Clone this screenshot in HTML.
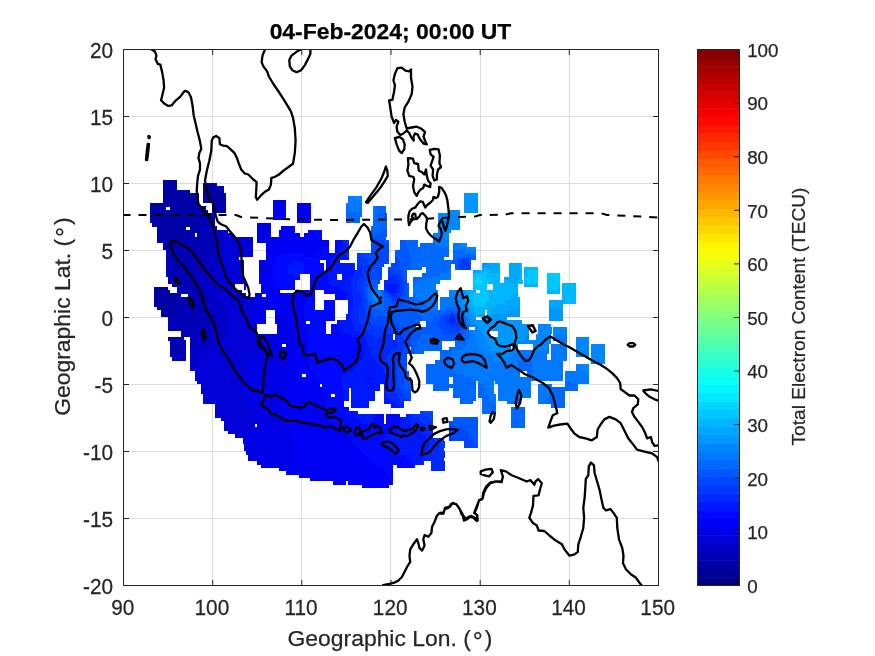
<!DOCTYPE html><html><head><meta charset="utf-8"><title>TEC map</title>
<style>html,body{margin:0;padding:0;background:#fff}svg{display:block}text{font-family:"Liberation Sans",sans-serif;fill:#262626;stroke:#262626;stroke-width:0.25px}</style></head><body>
<svg width="875" height="656" viewBox="0 0 875 656">
<rect width="875" height="656" fill="#fff"/>
<path d="M212.5 49.5V585.5M301.5 49.5V585.5M390.5 49.5V585.5M480.5 49.5V585.5M569.5 49.5V585.5M123.5 518.5H658.5M123.5 451.5H658.5M123.5 384.5H658.5M123.5 317.5H658.5M123.5 250.5H658.5M123.5 183.5H658.5M123.5 116.5H658.5" stroke="#dcdcdc" stroke-width="1" fill="none"/>
<g shape-rendering="crispEdges"><path fill="#000097" d="M152.1 223.1h2.5v3.6h-2.5zM154.3 203.0h9.2v3.6h-9.2zM163.3 199.6h2.5v3.6h-2.5zM163.3 196.3h2.5v3.6h-2.5zM163.3 192.9h2.5v3.6h-2.5z"/><path fill="#0000a7" d="M161.0 313.5h11.4v3.6h-11.4zM161.0 310.2h15.9v3.6h-15.9zM156.6 306.8h20.4v3.6h-20.4zM154.3 303.5h24.8v3.6h-24.8zM154.3 300.1h24.8v3.6h-24.8zM154.3 296.8h24.8v3.6h-24.8zM154.3 293.4h24.8v3.6h-24.8zM154.3 290.1h15.9v3.6h-15.9zM176.6 290.1h2.5v3.6h-2.5zM154.3 286.7h13.7v3.6h-13.7zM172.2 283.4h2.5v3.6h-2.5zM167.7 280.0h2.5v3.6h-2.5zM163.3 246.5h7.0v3.6h-7.0zM163.3 243.2h11.4v3.6h-11.4zM156.6 239.8h22.6v3.6h-22.6zM156.6 236.5h29.3v3.6h-29.3zM156.6 233.1h33.7v3.6h-33.7zM156.6 229.8h38.2v3.6h-38.2zM156.6 226.4h29.3v3.6h-29.3zM190.0 226.4h7.0v3.6h-7.0zM154.3 223.1h44.9v3.6h-44.9zM149.9 219.7h49.3v3.6h-49.3zM149.9 216.4h53.8v3.6h-53.8zM149.9 213.0h56.0v3.6h-56.0zM149.9 209.7h58.3v3.6h-58.3zM149.9 206.3h15.9v3.6h-15.9zM170.0 206.3h36.0v3.6h-36.0zM212.3 206.3h2.5v3.6h-2.5zM149.9 203.0h4.8v3.6h-4.8zM163.3 203.0h36.0v3.6h-36.0zM212.3 203.0h4.8v3.6h-4.8zM165.5 199.6h33.7v3.6h-33.7zM203.4 199.6h18.1v3.6h-18.1zM165.5 196.3h33.7v3.6h-33.7zM203.4 196.3h20.4v3.6h-20.4zM165.5 192.9h33.7v3.6h-33.7zM203.4 192.9h22.6v3.6h-22.6zM163.3 189.6h27.1v3.6h-27.1zM203.4 189.6h20.4v3.6h-20.4zM163.3 186.2h13.7v3.6h-13.7zM203.4 186.2h20.4v3.6h-20.4zM163.3 182.9h13.7v3.6h-13.7zM203.4 182.9h13.7v3.6h-13.7zM163.3 179.5h13.7v3.6h-13.7z"/><path fill="#0000b7" d="M172.2 357.1h9.2v3.6h-9.2zM170.0 353.8h13.7v3.6h-13.7zM170.0 350.4h15.9v3.6h-15.9zM170.0 347.0h15.9v3.6h-15.9zM170.0 343.7h15.9v3.6h-15.9zM170.0 340.3h15.9v3.6h-15.9zM167.7 337.0h15.9v3.6h-15.9zM190.0 337.0h2.5v3.6h-2.5zM181.1 333.6h11.4v3.6h-11.4zM181.1 330.3h11.4v3.6h-11.4zM167.7 326.9h27.1v3.6h-27.1zM167.7 323.6h47.1v3.6h-47.1zM167.7 320.2h49.3v3.6h-49.3zM167.7 316.9h49.3v3.6h-49.3zM172.2 313.5h42.7v3.6h-42.7zM176.6 310.2h36.0v3.6h-36.0zM176.6 306.8h31.5v3.6h-31.5zM178.9 303.5h29.3v3.6h-29.3zM178.9 300.1h29.3v3.6h-29.3zM178.9 296.8h29.3v3.6h-29.3zM178.9 293.4h2.5v3.6h-2.5zM187.8 293.4h18.1v3.6h-18.1zM178.9 290.1h27.1v3.6h-27.1zM176.6 286.7h27.1v3.6h-27.1zM174.4 283.4h27.1v3.6h-27.1zM170.0 280.0h29.3v3.6h-29.3zM167.7 276.7h29.3v3.6h-29.3zM165.5 273.3h31.5v3.6h-31.5zM165.5 270.0h33.7v3.6h-33.7zM165.5 266.6h36.0v3.6h-36.0zM165.5 263.3h40.4v3.6h-40.4zM165.5 259.9h42.7v3.6h-42.7zM165.5 256.6h47.1v3.6h-47.1zM165.5 253.2h47.1v3.6h-47.1zM165.5 249.9h49.3v3.6h-49.3zM170.0 246.5h44.9v3.6h-44.9zM174.4 243.2h40.4v3.6h-40.4zM178.9 239.8h36.0v3.6h-36.0zM185.6 236.5h27.1v3.6h-27.1zM190.0 233.1h4.8v3.6h-4.8zM196.7 233.1h15.9v3.6h-15.9zM194.5 229.8h18.1v3.6h-18.1zM196.7 226.4h15.9v3.6h-15.9zM198.9 223.1h15.9v3.6h-15.9zM198.9 219.7h15.9v3.6h-15.9zM203.4 216.4h11.4v3.6h-11.4zM205.6 213.0h9.2v3.6h-9.2zM212.3 209.7h13.7v3.6h-13.7zM214.5 206.3h11.4v3.6h-11.4zM216.8 203.0h9.2v3.6h-9.2zM221.2 199.6h4.8v3.6h-4.8zM223.5 196.3h2.5v3.6h-2.5z"/><path fill="#0000c7" d="M190.0 367.1h2.5v3.6h-2.5zM190.0 363.8h7.0v3.6h-7.0zM190.0 360.4h9.2v3.6h-9.2zM181.1 357.1h4.8v3.6h-4.8zM190.0 357.1h11.4v3.6h-11.4zM183.3 353.8h2.5v3.6h-2.5zM190.0 353.8h13.7v3.6h-13.7zM190.0 350.4h15.9v3.6h-15.9zM190.0 347.0h18.1v3.6h-18.1zM190.0 343.7h22.6v3.6h-22.6zM190.0 340.3h24.8v3.6h-24.8zM192.2 337.0h27.1v3.6h-27.1zM192.2 333.6h31.5v3.6h-31.5zM192.2 330.3h33.7v3.6h-33.7zM194.5 326.9h33.7v3.6h-33.7zM214.5 323.6h13.7v3.6h-13.7zM216.8 320.2h11.4v3.6h-11.4zM216.8 316.9h11.4v3.6h-11.4zM214.5 313.5h13.7v3.6h-13.7zM212.3 310.2h13.7v3.6h-13.7zM207.8 306.8h15.9v3.6h-15.9zM207.8 303.5h15.9v3.6h-15.9zM207.8 300.1h13.7v3.6h-13.7zM207.8 296.8h11.4v3.6h-11.4zM205.6 293.4h13.7v3.6h-13.7zM205.6 290.1h11.4v3.6h-11.4zM203.4 286.7h13.7v3.6h-13.7zM201.2 283.4h15.9v3.6h-15.9zM198.9 280.0h18.1v3.6h-18.1zM196.7 276.7h18.1v3.6h-18.1zM196.7 273.3h20.4v3.6h-20.4zM198.9 270.0h18.1v3.6h-18.1zM201.2 266.6h15.9v3.6h-15.9zM205.6 263.3h13.7v3.6h-13.7zM207.8 259.9h11.4v3.6h-11.4zM212.3 256.6h9.2v3.6h-9.2zM212.3 253.2h9.2v3.6h-9.2zM214.5 249.9h9.2v3.6h-9.2zM214.5 246.5h9.2v3.6h-9.2zM214.5 243.2h9.2v3.6h-9.2zM214.5 239.8h9.2v3.6h-9.2zM212.3 236.5h11.4v3.6h-11.4zM212.3 233.1h11.4v3.6h-11.4zM212.3 229.8h11.4v3.6h-11.4zM212.3 226.4h4.8v3.6h-4.8z"/><path fill="#0000d7" d="M234.6 434.1h9.2v3.6h-9.2zM227.9 430.8h20.4v3.6h-20.4zM223.5 427.4h29.3v3.6h-29.3zM223.5 424.1h31.5v3.6h-31.5zM223.5 420.8h31.5v3.6h-31.5zM221.2 417.4h33.7v3.6h-33.7zM214.5 414.0h40.4v3.6h-40.4zM214.5 410.7h40.4v3.6h-40.4zM214.5 407.3h38.2v3.6h-38.2zM214.5 404.0h36.0v3.6h-36.0zM203.4 400.6h44.9v3.6h-44.9zM203.4 397.3h42.7v3.6h-42.7zM203.4 393.9h42.7v3.6h-42.7zM201.2 390.6h42.7v3.6h-42.7zM201.2 387.2h42.7v3.6h-42.7zM201.2 383.9h42.7v3.6h-42.7zM196.7 380.5h47.1v3.6h-47.1zM194.5 377.2h49.3v3.6h-49.3zM194.5 373.8h49.3v3.6h-49.3zM194.5 370.5h51.6v3.6h-51.6zM192.2 367.1h56.0v3.6h-56.0zM196.7 363.8h53.8v3.6h-53.8zM198.9 360.4h53.8v3.6h-53.8zM201.2 357.1h53.8v3.6h-53.8zM203.4 353.8h53.8v3.6h-53.8zM205.6 350.4h53.8v3.6h-53.8zM207.8 347.0h53.8v3.6h-53.8zM212.3 343.7h49.3v3.6h-49.3zM214.5 340.3h47.1v3.6h-47.1zM219.0 337.0h42.7v3.6h-42.7zM223.5 333.6h38.2v3.6h-38.2zM225.7 330.3h31.5v3.6h-31.5zM227.9 326.9h29.3v3.6h-29.3zM227.9 323.6h24.8v3.6h-24.8zM227.9 320.2h22.6v3.6h-22.6zM227.9 316.9h22.6v3.6h-22.6zM227.9 313.5h22.6v3.6h-22.6zM225.7 310.2h24.8v3.6h-24.8zM223.5 306.8h29.3v3.6h-29.3zM223.5 303.5h29.3v3.6h-29.3zM221.2 300.1h31.5v3.6h-31.5zM219.0 296.8h33.7v3.6h-33.7zM219.0 293.4h27.1v3.6h-27.1zM216.8 290.1h24.8v3.6h-24.8zM216.8 286.7h18.1v3.6h-18.1zM243.5 286.7h2.5v3.6h-2.5zM216.8 283.4h18.1v3.6h-18.1zM243.5 283.4h2.5v3.6h-2.5zM216.8 280.0h29.3v3.6h-29.3zM214.5 276.7h29.3v3.6h-29.3zM216.8 273.3h27.1v3.6h-27.1zM216.8 270.0h27.1v3.6h-27.1zM216.8 266.6h27.1v3.6h-27.1zM219.0 263.3h24.8v3.6h-24.8zM219.0 259.9h24.8v3.6h-24.8zM221.2 256.6h18.1v3.6h-18.1zM221.2 253.2h31.5v3.6h-31.5zM223.5 249.9h29.3v3.6h-29.3zM223.5 246.5h29.3v3.6h-29.3zM223.5 243.2h29.3v3.6h-29.3zM223.5 239.8h27.1v3.6h-27.1zM223.5 236.5h22.6v3.6h-22.6zM223.5 233.1h9.2v3.6h-9.2zM223.5 229.8h4.8v3.6h-4.8z"/><path fill="#0000e7" d="M279.2 467.6h9.2v3.6h-9.2zM261.3 464.3h29.3v3.6h-29.3zM256.9 460.9h36.0v3.6h-36.0zM248.0 457.6h44.9v3.6h-44.9zM248.0 454.2h44.9v3.6h-44.9zM245.7 450.9h49.3v3.6h-49.3zM243.5 447.5h51.6v3.6h-51.6zM243.5 444.2h51.6v3.6h-51.6zM243.5 440.8h49.3v3.6h-49.3zM243.5 437.5h49.3v3.6h-49.3zM243.5 434.1h47.1v3.6h-47.1zM248.0 430.8h42.7v3.6h-42.7zM252.4 427.4h36.0v3.6h-36.0zM256.9 424.1h29.3v3.6h-29.3zM254.7 420.8h31.5v3.6h-31.5zM254.7 417.4h29.3v3.6h-29.3zM254.7 414.0h29.3v3.6h-29.3zM254.7 410.7h29.3v3.6h-29.3zM252.4 407.3h31.5v3.6h-31.5zM250.2 404.0h33.7v3.6h-33.7zM248.0 400.6h36.0v3.6h-36.0zM245.7 397.3h38.2v3.6h-38.2zM245.7 393.9h40.4v3.6h-40.4zM243.5 390.6h42.7v3.6h-42.7zM243.5 387.2h42.7v3.6h-42.7zM243.5 383.9h44.9v3.6h-44.9zM243.5 380.5h44.9v3.6h-44.9zM243.5 377.2h44.9v3.6h-44.9zM243.5 373.8h44.9v3.6h-44.9zM245.7 370.5h42.7v3.6h-42.7zM248.0 367.1h38.2v3.6h-38.2zM250.2 363.8h36.0v3.6h-36.0zM252.4 360.4h33.7v3.6h-33.7zM254.7 357.1h31.5v3.6h-31.5zM256.9 353.8h29.3v3.6h-29.3zM259.1 350.4h29.3v3.6h-29.3zM261.3 347.0h29.3v3.6h-29.3zM261.3 343.7h20.4v3.6h-20.4zM285.9 343.7h4.8v3.6h-4.8zM261.3 340.3h31.5v3.6h-31.5zM261.3 337.0h33.7v3.6h-33.7zM261.3 333.6h33.7v3.6h-33.7zM277.0 330.3h18.1v3.6h-18.1zM277.0 326.9h18.1v3.6h-18.1zM252.4 323.6h4.8v3.6h-4.8zM277.0 323.6h15.9v3.6h-15.9zM250.2 320.2h15.9v3.6h-15.9zM274.7 320.2h15.9v3.6h-15.9zM250.2 316.9h15.9v3.6h-15.9zM274.7 316.9h13.7v3.6h-13.7zM250.2 313.5h15.9v3.6h-15.9zM274.7 313.5h9.2v3.6h-9.2zM250.2 310.2h15.9v3.6h-15.9zM252.4 306.8h18.1v3.6h-18.1zM252.4 303.5h15.9v3.6h-15.9zM252.4 300.1h13.7v3.6h-13.7zM252.4 296.8h13.7v3.6h-13.7zM254.7 293.4h7.0v3.6h-7.0zM261.3 290.1h2.5v3.6h-2.5zM261.3 286.7h2.5v3.6h-2.5zM259.1 280.0h2.5v3.6h-2.5zM259.1 266.6h2.5v3.6h-2.5zM259.1 263.3h2.5v3.6h-2.5zM259.1 259.9h2.5v3.6h-2.5zM265.8 243.2h2.5v3.6h-2.5zM250.2 239.8h2.5v3.6h-2.5zM256.9 239.8h15.9v3.6h-15.9zM245.7 236.5h7.0v3.6h-7.0zM256.9 236.5h18.1v3.6h-18.1zM256.9 233.1h13.7v3.6h-13.7zM256.9 229.8h13.7v3.6h-13.7zM256.9 226.4h13.7v3.6h-13.7zM256.9 223.1h13.7v3.6h-13.7zM272.5 216.4h4.8v3.6h-4.8z"/><path fill="#0000f7" d="M361.7 484.4h27.1v3.6h-27.1zM332.7 481.0h13.7v3.6h-13.7zM348.3 481.0h42.7v3.6h-42.7zM310.4 477.7h80.5v3.6h-80.5zM299.2 474.3h89.5v3.6h-89.5zM285.9 471.0h100.6v3.6h-100.6zM288.1 467.6h96.2v3.6h-96.2zM290.3 464.3h87.2v3.6h-87.2zM292.6 460.9h78.3v3.6h-78.3zM292.6 457.6h76.1v3.6h-76.1zM292.6 454.2h73.9v3.6h-73.9zM294.8 450.9h67.2v3.6h-67.2zM294.8 447.5h64.9v3.6h-64.9zM294.8 444.2h60.5v3.6h-60.5zM292.6 440.8h60.5v3.6h-60.5zM292.6 437.5h58.3v3.6h-58.3zM290.3 434.1h58.3v3.6h-58.3zM290.3 430.8h53.8v3.6h-53.8zM288.1 427.4h51.6v3.6h-51.6zM285.9 424.1h49.3v3.6h-49.3zM285.9 420.8h44.9v3.6h-44.9zM283.6 417.4h44.9v3.6h-44.9zM283.6 414.0h44.9v3.6h-44.9zM283.6 410.7h42.7v3.6h-42.7zM283.6 407.3h42.7v3.6h-42.7zM283.6 404.0h42.7v3.6h-42.7zM283.6 400.6h42.7v3.6h-42.7zM283.6 397.3h42.7v3.6h-42.7zM285.9 393.9h40.4v3.6h-40.4zM285.9 390.6h38.2v3.6h-38.2zM285.9 387.2h38.2v3.6h-38.2zM288.1 383.9h31.5v3.6h-31.5zM288.1 380.5h31.5v3.6h-31.5zM288.1 377.2h29.3v3.6h-29.3zM288.1 373.8h13.7v3.6h-13.7zM305.9 373.8h9.2v3.6h-9.2zM288.1 370.5h24.8v3.6h-24.8zM285.9 367.1h24.8v3.6h-24.8zM285.9 363.8h24.8v3.6h-24.8zM285.9 360.4h22.6v3.6h-22.6zM285.9 357.1h22.6v3.6h-22.6zM285.9 353.8h22.6v3.6h-22.6zM288.1 350.4h20.4v3.6h-20.4zM290.3 347.0h18.1v3.6h-18.1zM290.3 343.7h18.1v3.6h-18.1zM292.6 340.3h15.9v3.6h-15.9zM294.8 337.0h13.7v3.6h-13.7zM294.8 333.6h13.7v3.6h-13.7zM294.8 330.3h13.7v3.6h-13.7zM294.8 326.9h13.7v3.6h-13.7zM292.6 323.6h15.9v3.6h-15.9zM290.3 320.2h15.9v3.6h-15.9zM288.1 316.9h18.1v3.6h-18.1zM283.6 313.5h20.4v3.6h-20.4zM274.7 310.2h29.3v3.6h-29.3zM270.3 306.8h33.7v3.6h-33.7zM268.0 303.5h36.0v3.6h-36.0zM265.8 300.1h40.4v3.6h-40.4zM265.8 296.8h42.7v3.6h-42.7zM265.8 293.4h42.7v3.6h-42.7zM263.6 290.1h15.9v3.6h-15.9zM294.8 290.1h15.9v3.6h-15.9zM263.6 286.7h18.1v3.6h-18.1zM290.3 286.7h4.8v3.6h-4.8zM261.3 283.4h15.9v3.6h-15.9zM261.3 280.0h13.7v3.6h-13.7zM259.1 276.7h15.9v3.6h-15.9zM259.1 273.3h13.7v3.6h-13.7zM259.1 270.0h13.7v3.6h-13.7zM261.3 266.6h11.4v3.6h-11.4zM261.3 263.3h13.7v3.6h-13.7zM261.3 259.9h13.7v3.6h-13.7zM265.8 256.6h11.4v3.6h-11.4zM265.8 253.2h15.9v3.6h-15.9zM303.7 253.2h13.7v3.6h-13.7zM265.8 249.9h56.0v3.6h-56.0zM265.8 246.5h56.0v3.6h-56.0zM268.0 243.2h60.5v3.6h-60.5zM272.5 239.8h56.0v3.6h-56.0zM274.7 236.5h42.7v3.6h-42.7zM279.2 233.1h20.4v3.6h-20.4zM303.7 233.1h9.2v3.6h-9.2zM279.2 229.8h15.9v3.6h-15.9zM308.2 229.8h2.5v3.6h-2.5zM281.4 226.4h13.7v3.6h-13.7zM297.0 219.7h13.7v3.6h-13.7zM277.0 216.4h9.2v3.6h-9.2zM297.0 216.4h13.7v3.6h-13.7zM272.5 213.0h13.7v3.6h-13.7zM297.0 213.0h13.7v3.6h-13.7zM272.5 209.7h13.7v3.6h-13.7zM297.0 209.7h13.7v3.6h-13.7zM272.5 206.3h13.7v3.6h-13.7zM297.0 206.3h13.7v3.6h-13.7zM272.5 203.0h13.7v3.6h-13.7zM297.0 203.0h11.4v3.6h-11.4zM272.5 199.6h13.7v3.6h-13.7z"/><path fill="#0008ff" d="M390.6 481.0h2.5v3.6h-2.5zM390.6 477.7h2.5v3.6h-2.5zM388.4 474.3h4.8v3.6h-4.8zM386.2 471.0h7.0v3.6h-7.0zM384.0 467.6h9.2v3.6h-9.2zM377.3 464.3h15.9v3.6h-15.9zM397.3 464.3h15.9v3.6h-15.9zM370.6 460.9h42.7v3.6h-42.7zM368.3 457.6h42.7v3.6h-42.7zM366.1 454.2h40.4v3.6h-40.4zM361.7 450.9h38.2v3.6h-38.2zM359.4 447.5h33.7v3.6h-33.7zM355.0 444.2h33.7v3.6h-33.7zM352.7 440.8h31.5v3.6h-31.5zM350.5 437.5h33.7v3.6h-33.7zM348.3 434.1h38.2v3.6h-38.2zM343.8 430.8h49.3v3.6h-49.3zM339.4 427.4h58.3v3.6h-58.3zM334.9 424.1h64.9v3.6h-64.9zM330.5 420.8h31.5v3.6h-31.5zM370.6 420.8h13.7v3.6h-13.7zM386.2 420.8h13.7v3.6h-13.7zM328.2 417.4h31.5v3.6h-31.5zM372.8 417.4h11.4v3.6h-11.4zM386.2 417.4h13.7v3.6h-13.7zM328.2 414.0h27.1v3.6h-27.1zM375.0 414.0h9.2v3.6h-9.2zM386.2 414.0h13.7v3.6h-13.7zM326.0 410.7h27.1v3.6h-27.1zM326.0 407.3h22.6v3.6h-22.6zM326.0 404.0h18.1v3.6h-18.1zM326.0 400.6h18.1v3.6h-18.1zM326.0 397.3h18.1v3.6h-18.1zM326.0 393.9h4.8v3.6h-4.8zM334.9 393.9h9.2v3.6h-9.2zM323.8 390.6h20.4v3.6h-20.4zM323.8 387.2h18.1v3.6h-18.1zM321.5 383.9h20.4v3.6h-20.4zM319.3 380.5h22.6v3.6h-22.6zM368.3 380.5h2.5v3.6h-2.5zM317.1 377.2h24.8v3.6h-24.8zM366.1 377.2h4.8v3.6h-4.8zM314.8 373.8h27.1v3.6h-27.1zM312.6 370.5h33.7v3.6h-33.7zM310.4 367.1h42.7v3.6h-42.7zM310.4 363.8h47.1v3.6h-47.1zM308.2 360.4h51.6v3.6h-51.6zM308.2 357.1h53.8v3.6h-53.8zM308.2 353.8h53.8v3.6h-53.8zM308.2 350.4h56.0v3.6h-56.0zM308.2 347.0h53.8v3.6h-53.8zM308.2 343.7h53.8v3.6h-53.8zM308.2 340.3h51.6v3.6h-51.6zM308.2 337.0h49.3v3.6h-49.3zM308.2 333.6h42.7v3.6h-42.7zM308.2 330.3h18.1v3.6h-18.1zM330.5 330.3h11.4v3.6h-11.4zM308.2 326.9h18.1v3.6h-18.1zM330.5 326.9h9.2v3.6h-9.2zM308.2 323.6h18.1v3.6h-18.1zM330.5 323.6h9.2v3.6h-9.2zM310.4 320.2h15.9v3.6h-15.9zM337.1 320.2h2.5v3.6h-2.5zM305.9 316.9h29.3v3.6h-29.3zM303.7 313.5h31.5v3.6h-31.5zM303.7 310.2h31.5v3.6h-31.5zM303.7 306.8h11.4v3.6h-11.4zM323.8 306.8h11.4v3.6h-11.4zM303.7 303.5h11.4v3.6h-11.4zM323.8 303.5h11.4v3.6h-11.4zM305.9 300.1h9.2v3.6h-9.2zM323.8 300.1h11.4v3.6h-11.4zM308.2 296.8h7.0v3.6h-7.0zM334.9 296.8h11.4v3.6h-11.4zM308.2 293.4h7.0v3.6h-7.0zM334.9 293.4h11.4v3.6h-11.4zM310.4 290.1h4.8v3.6h-4.8zM323.8 290.1h20.4v3.6h-20.4zM281.4 286.7h9.2v3.6h-9.2zM310.4 286.7h29.3v3.6h-29.3zM277.0 283.4h18.1v3.6h-18.1zM310.4 283.4h20.4v3.6h-20.4zM274.7 280.0h20.4v3.6h-20.4zM310.4 280.0h18.1v3.6h-18.1zM274.7 276.7h24.8v3.6h-24.8zM310.4 276.7h18.1v3.6h-18.1zM272.5 273.3h20.4v3.6h-20.4zM310.4 273.3h18.1v3.6h-18.1zM272.5 270.0h15.9v3.6h-15.9zM303.7 270.0h20.4v3.6h-20.4zM326.0 270.0h2.5v3.6h-2.5zM272.5 266.6h15.9v3.6h-15.9zM303.7 266.6h20.4v3.6h-20.4zM326.0 266.6h2.5v3.6h-2.5zM274.7 263.3h15.9v3.6h-15.9zM303.7 263.3h20.4v3.6h-20.4zM326.0 263.3h4.8v3.6h-4.8zM274.7 259.9h18.1v3.6h-18.1zM299.2 259.9h20.4v3.6h-20.4zM326.0 259.9h4.8v3.6h-4.8zM277.0 256.6h56.0v3.6h-56.0zM281.4 253.2h22.6v3.6h-22.6zM317.1 253.2h18.1v3.6h-18.1zM321.5 249.9h7.0v3.6h-7.0zM334.9 249.9h4.8v3.6h-4.8zM321.5 246.5h7.0v3.6h-7.0zM334.9 246.5h4.8v3.6h-4.8zM334.9 243.2h7.0v3.6h-7.0zM334.9 239.8h7.0v3.6h-7.0zM317.1 236.5h4.8v3.6h-4.8zM312.6 233.1h9.2v3.6h-9.2zM310.4 229.8h11.4v3.6h-11.4zM308.2 203.0h2.5v3.6h-2.5z"/><path fill="#0018ff" d="M412.9 464.3h2.5v3.6h-2.5zM412.9 460.9h9.2v3.6h-9.2zM410.7 457.6h11.4v3.6h-11.4zM406.2 454.2h18.1v3.6h-18.1zM399.6 450.9h24.8v3.6h-24.8zM392.9 447.5h33.7v3.6h-33.7zM388.4 444.2h40.4v3.6h-40.4zM384.0 440.8h44.9v3.6h-44.9zM384.0 437.5h42.7v3.6h-42.7zM386.2 434.1h40.4v3.6h-40.4zM392.9 430.8h29.3v3.6h-29.3zM397.3 427.4h18.1v3.6h-18.1zM399.6 424.1h11.4v3.6h-11.4zM361.7 420.8h9.2v3.6h-9.2zM399.6 420.8h11.4v3.6h-11.4zM359.4 417.4h13.7v3.6h-13.7zM399.6 417.4h9.2v3.6h-9.2zM355.0 414.0h20.4v3.6h-20.4zM406.2 414.0h2.5v3.6h-2.5zM352.7 410.7h4.8v3.6h-4.8zM350.5 404.0h18.1v3.6h-18.1zM390.6 404.0h9.2v3.6h-9.2zM350.5 400.6h18.1v3.6h-18.1zM384.0 400.6h11.4v3.6h-11.4zM343.8 397.3h4.8v3.6h-4.8zM350.5 397.3h24.8v3.6h-24.8zM384.0 397.3h7.0v3.6h-7.0zM343.8 393.9h4.8v3.6h-4.8zM350.5 393.9h24.8v3.6h-24.8zM384.0 393.9h4.8v3.6h-4.8zM343.8 390.6h4.8v3.6h-4.8zM350.5 390.6h24.8v3.6h-24.8zM384.0 390.6h2.5v3.6h-2.5zM341.6 387.2h7.0v3.6h-7.0zM350.5 387.2h29.3v3.6h-29.3zM384.0 387.2h2.5v3.6h-2.5zM341.6 383.9h38.2v3.6h-38.2zM384.0 383.9h2.5v3.6h-2.5zM341.6 380.5h27.1v3.6h-27.1zM370.6 380.5h15.9v3.6h-15.9zM341.6 377.2h24.8v3.6h-24.8zM370.6 377.2h15.9v3.6h-15.9zM341.6 373.8h44.9v3.6h-44.9zM346.1 370.5h38.2v3.6h-38.2zM352.7 367.1h29.3v3.6h-29.3zM357.2 363.8h22.6v3.6h-22.6zM359.4 360.4h18.1v3.6h-18.1zM361.7 357.1h13.7v3.6h-13.7zM361.7 353.8h11.4v3.6h-11.4zM363.9 350.4h7.0v3.6h-7.0zM361.7 347.0h9.2v3.6h-9.2zM361.7 343.7h7.0v3.6h-7.0zM359.4 340.3h9.2v3.6h-9.2zM357.2 337.0h9.2v3.6h-9.2zM350.5 333.6h13.7v3.6h-13.7zM341.6 330.3h18.1v3.6h-18.1zM339.4 326.9h15.9v3.6h-15.9zM339.4 323.6h13.7v3.6h-13.7zM339.4 320.2h13.7v3.6h-13.7zM346.1 316.9h4.8v3.6h-4.8zM346.1 313.5h4.8v3.6h-4.8zM348.3 310.2h2.5v3.6h-2.5zM348.3 306.8h4.8v3.6h-4.8zM348.3 303.5h4.8v3.6h-4.8zM348.3 300.1h4.8v3.6h-4.8zM346.1 296.8h7.0v3.6h-7.0zM346.1 293.4h4.8v3.6h-4.8zM343.8 290.1h7.0v3.6h-7.0zM388.4 290.1h9.2v3.6h-9.2zM339.4 286.7h11.4v3.6h-11.4zM386.2 286.7h11.4v3.6h-11.4zM330.5 283.4h20.4v3.6h-20.4zM386.2 283.4h11.4v3.6h-11.4zM328.2 280.0h22.6v3.6h-22.6zM328.2 276.7h9.2v3.6h-9.2zM341.6 276.7h9.2v3.6h-9.2zM292.6 273.3h7.0v3.6h-7.0zM328.2 273.3h9.2v3.6h-9.2zM341.6 273.3h11.4v3.6h-11.4zM288.1 270.0h15.9v3.6h-15.9zM328.2 270.0h27.1v3.6h-27.1zM288.1 266.6h15.9v3.6h-15.9zM328.2 266.6h24.8v3.6h-24.8zM290.3 263.3h13.7v3.6h-13.7zM330.5 263.3h22.6v3.6h-22.6zM292.6 259.9h7.0v3.6h-7.0zM330.5 259.9h9.2v3.6h-9.2zM332.7 256.6h15.9v3.6h-15.9zM334.9 253.2h11.4v3.6h-11.4zM339.4 249.9h7.0v3.6h-7.0zM339.4 246.5h7.0v3.6h-7.0zM341.6 243.2h4.8v3.6h-4.8zM341.6 239.8h2.5v3.6h-2.5z"/><path fill="#0028ff" d="M430.8 467.6h13.7v3.6h-13.7zM430.8 464.3h13.7v3.6h-13.7zM421.8 460.9h2.5v3.6h-2.5zM430.8 460.9h13.7v3.6h-13.7zM421.8 457.6h22.6v3.6h-22.6zM424.1 454.2h20.4v3.6h-20.4zM424.1 450.9h20.4v3.6h-20.4zM426.3 447.5h15.9v3.6h-15.9zM428.5 444.2h11.4v3.6h-11.4zM428.5 440.8h9.2v3.6h-9.2zM426.3 437.5h9.2v3.6h-9.2zM426.3 434.1h7.0v3.6h-7.0zM421.8 430.8h9.2v3.6h-9.2zM415.2 427.4h13.7v3.6h-13.7zM410.7 424.1h15.9v3.6h-15.9zM410.7 420.8h13.7v3.6h-13.7zM408.5 417.4h11.4v3.6h-11.4zM408.5 414.0h7.0v3.6h-7.0zM399.6 404.0h4.8v3.6h-4.8zM395.1 400.6h9.2v3.6h-9.2zM390.6 397.3h9.2v3.6h-9.2zM388.4 393.9h9.2v3.6h-9.2zM386.2 390.6h9.2v3.6h-9.2zM386.2 387.2h7.0v3.6h-7.0zM386.2 383.9h7.0v3.6h-7.0zM386.2 380.5h7.0v3.6h-7.0zM386.2 377.2h7.0v3.6h-7.0zM386.2 373.8h4.8v3.6h-4.8zM384.0 370.5h7.0v3.6h-7.0zM381.7 367.1h9.2v3.6h-9.2zM379.5 363.8h9.2v3.6h-9.2zM377.3 360.4h11.4v3.6h-11.4zM375.0 357.1h11.4v3.6h-11.4zM372.8 353.8h15.9v3.6h-15.9zM370.6 350.4h20.4v3.6h-20.4zM370.6 347.0h24.8v3.6h-24.8zM368.3 343.7h29.3v3.6h-29.3zM368.3 340.3h29.3v3.6h-29.3zM366.1 337.0h27.1v3.6h-27.1zM395.1 337.0h2.5v3.6h-2.5zM363.9 333.6h9.2v3.6h-9.2zM381.7 333.6h11.4v3.6h-11.4zM359.4 330.3h9.2v3.6h-9.2zM355.0 326.9h11.4v3.6h-11.4zM352.7 323.6h9.2v3.6h-9.2zM352.7 320.2h7.0v3.6h-7.0zM448.6 320.2h7.0v3.6h-7.0zM350.5 316.9h9.2v3.6h-9.2zM448.6 316.9h7.0v3.6h-7.0zM350.5 313.5h9.2v3.6h-9.2zM350.5 310.2h9.2v3.6h-9.2zM352.7 306.8h7.0v3.6h-7.0zM352.7 303.5h9.2v3.6h-9.2zM352.7 300.1h9.2v3.6h-9.2zM352.7 296.8h9.2v3.6h-9.2zM350.5 293.4h11.4v3.6h-11.4zM390.6 293.4h7.0v3.6h-7.0zM350.5 290.1h9.2v3.6h-9.2zM386.2 290.1h2.5v3.6h-2.5zM397.3 290.1h2.5v3.6h-2.5zM350.5 286.7h7.0v3.6h-7.0zM384.0 286.7h2.5v3.6h-2.5zM397.3 286.7h2.5v3.6h-2.5zM350.5 283.4h7.0v3.6h-7.0zM384.0 283.4h2.5v3.6h-2.5zM397.3 283.4h2.5v3.6h-2.5zM350.5 280.0h7.0v3.6h-7.0zM384.0 280.0h15.9v3.6h-15.9zM350.5 276.7h9.2v3.6h-9.2zM388.4 276.7h7.0v3.6h-7.0zM352.7 273.3h9.2v3.6h-9.2zM355.0 270.0h7.0v3.6h-7.0zM352.7 266.6h2.5v3.6h-2.5zM357.2 266.6h4.8v3.6h-4.8zM352.7 263.3h2.5v3.6h-2.5zM357.2 263.3h2.5v3.6h-2.5zM357.2 259.9h2.5v3.6h-2.5zM346.1 253.2h2.5v3.6h-2.5zM346.1 249.9h2.5v3.6h-2.5zM346.1 246.5h2.5v3.6h-2.5zM346.1 243.2h2.5v3.6h-2.5zM343.8 239.8h4.8v3.6h-4.8z"/><path fill="#0038ff" d="M441.9 447.5h2.5v3.6h-2.5zM439.7 444.2h4.8v3.6h-4.8zM437.5 440.8h7.0v3.6h-7.0zM435.2 437.5h9.2v3.6h-9.2zM448.6 437.5h4.8v3.6h-4.8zM448.6 434.1h2.5v3.6h-2.5zM430.8 430.8h2.5v3.6h-2.5zM448.6 430.8h2.5v3.6h-2.5zM428.5 427.4h4.8v3.6h-4.8zM426.3 424.1h7.0v3.6h-7.0zM424.1 420.8h9.2v3.6h-9.2zM419.6 417.4h13.7v3.6h-13.7zM415.2 414.0h15.9v3.6h-15.9zM419.6 410.7h4.8v3.6h-4.8zM399.6 397.3h9.2v3.6h-9.2zM397.3 393.9h7.0v3.6h-7.0zM395.1 390.6h7.0v3.6h-7.0zM392.9 387.2h7.0v3.6h-7.0zM392.9 383.9h4.8v3.6h-4.8zM392.9 380.5h4.8v3.6h-4.8zM392.9 377.2h4.8v3.6h-4.8zM390.6 373.8h7.0v3.6h-7.0zM390.6 370.5h7.0v3.6h-7.0zM390.6 367.1h7.0v3.6h-7.0zM388.4 363.8h9.2v3.6h-9.2zM388.4 360.4h9.2v3.6h-9.2zM386.2 357.1h13.7v3.6h-13.7zM388.4 353.8h11.4v3.6h-11.4zM390.6 350.4h11.4v3.6h-11.4zM395.1 347.0h9.2v3.6h-9.2zM397.3 343.7h7.0v3.6h-7.0zM397.3 340.3h7.0v3.6h-7.0zM397.3 337.0h7.0v3.6h-7.0zM372.8 333.6h9.2v3.6h-9.2zM395.1 333.6h7.0v3.6h-7.0zM368.3 330.3h29.3v3.6h-29.3zM366.1 326.9h24.8v3.6h-24.8zM361.7 323.6h13.7v3.6h-13.7zM446.4 323.6h13.7v3.6h-13.7zM359.4 320.2h11.4v3.6h-11.4zM444.1 320.2h4.8v3.6h-4.8zM455.3 320.2h4.8v3.6h-4.8zM359.4 316.9h7.0v3.6h-7.0zM444.1 316.9h4.8v3.6h-4.8zM455.3 316.9h4.8v3.6h-4.8zM359.4 313.5h7.0v3.6h-7.0zM448.6 313.5h7.0v3.6h-7.0zM359.4 310.2h7.0v3.6h-7.0zM359.4 306.8h7.0v3.6h-7.0zM361.7 303.5h4.8v3.6h-4.8zM361.7 300.1h4.8v3.6h-4.8zM361.7 296.8h4.8v3.6h-4.8zM392.9 296.8h7.0v3.6h-7.0zM361.7 293.4h2.5v3.6h-2.5zM388.4 293.4h2.5v3.6h-2.5zM397.3 293.4h4.8v3.6h-4.8zM359.4 290.1h4.8v3.6h-4.8zM384.0 290.1h2.5v3.6h-2.5zM399.6 290.1h2.5v3.6h-2.5zM357.2 286.7h7.0v3.6h-7.0zM399.6 286.7h4.8v3.6h-4.8zM357.2 283.4h7.0v3.6h-7.0zM399.6 283.4h2.5v3.6h-2.5zM357.2 280.0h7.0v3.6h-7.0zM399.6 280.0h2.5v3.6h-2.5zM359.4 276.7h7.0v3.6h-7.0zM395.1 276.7h7.0v3.6h-7.0zM361.7 273.3h7.0v3.6h-7.0zM388.4 273.3h11.4v3.6h-11.4zM361.7 270.0h9.2v3.6h-9.2zM388.4 270.0h7.0v3.6h-7.0zM361.7 266.6h11.4v3.6h-11.4zM462.0 266.6h7.0v3.6h-7.0zM359.4 263.3h11.4v3.6h-11.4zM459.7 263.3h9.2v3.6h-9.2zM359.4 259.9h9.2v3.6h-9.2zM462.0 259.9h7.0v3.6h-7.0zM357.2 256.6h9.2v3.6h-9.2zM357.2 253.2h4.8v3.6h-4.8z"/><path fill="#0048ff" d="M464.2 444.2h13.7v3.6h-13.7zM464.2 440.8h11.4v3.6h-11.4zM453.1 437.5h20.4v3.6h-20.4zM450.8 434.1h20.4v3.6h-20.4zM450.8 430.8h18.1v3.6h-18.1zM448.6 427.4h15.9v3.6h-15.9zM448.6 424.1h7.0v3.6h-7.0zM448.6 420.8h2.5v3.6h-2.5zM430.8 414.0h2.5v3.6h-2.5zM424.1 410.7h9.2v3.6h-9.2zM408.5 397.3h2.5v3.6h-2.5zM404.0 393.9h7.0v3.6h-7.0zM401.8 390.6h7.0v3.6h-7.0zM399.6 387.2h7.0v3.6h-7.0zM397.3 383.9h7.0v3.6h-7.0zM397.3 380.5h7.0v3.6h-7.0zM397.3 377.2h7.0v3.6h-7.0zM397.3 373.8h7.0v3.6h-7.0zM397.3 370.5h7.0v3.6h-7.0zM397.3 367.1h7.0v3.6h-7.0zM397.3 363.8h9.2v3.6h-9.2zM397.3 360.4h9.2v3.6h-9.2zM399.6 357.1h7.0v3.6h-7.0zM399.6 353.8h7.0v3.6h-7.0zM401.8 350.4h7.0v3.6h-7.0zM404.0 347.0h4.8v3.6h-4.8zM404.0 343.7h7.0v3.6h-7.0zM404.0 340.3h7.0v3.6h-7.0zM404.0 337.0h7.0v3.6h-7.0zM401.8 333.6h9.2v3.6h-9.2zM397.3 330.3h13.7v3.6h-13.7zM441.9 330.3h18.1v3.6h-18.1zM390.6 326.9h18.1v3.6h-18.1zM439.7 326.9h22.6v3.6h-22.6zM375.0 323.6h24.8v3.6h-24.8zM437.5 323.6h9.2v3.6h-9.2zM459.7 323.6h2.5v3.6h-2.5zM370.6 320.2h24.8v3.6h-24.8zM437.5 320.2h7.0v3.6h-7.0zM459.7 320.2h2.5v3.6h-2.5zM366.1 316.9h24.8v3.6h-24.8zM439.7 316.9h4.8v3.6h-4.8zM459.7 316.9h2.5v3.6h-2.5zM366.1 313.5h7.0v3.6h-7.0zM444.1 313.5h4.8v3.6h-4.8zM455.3 313.5h4.8v3.6h-4.8zM366.1 310.2h4.8v3.6h-4.8zM450.8 310.2h2.5v3.6h-2.5zM366.1 306.8h2.5v3.6h-2.5zM366.1 303.5h2.5v3.6h-2.5zM392.9 303.5h9.2v3.6h-9.2zM366.1 300.1h2.5v3.6h-2.5zM390.6 300.1h13.7v3.6h-13.7zM366.1 296.8h2.5v3.6h-2.5zM388.4 296.8h4.8v3.6h-4.8zM399.6 296.8h4.8v3.6h-4.8zM363.9 293.4h2.5v3.6h-2.5zM386.2 293.4h2.5v3.6h-2.5zM401.8 293.4h4.8v3.6h-4.8zM363.9 290.1h2.5v3.6h-2.5zM401.8 290.1h4.8v3.6h-4.8zM363.9 286.7h2.5v3.6h-2.5zM404.0 286.7h2.5v3.6h-2.5zM363.9 283.4h4.8v3.6h-4.8zM401.8 283.4h4.8v3.6h-4.8zM363.9 280.0h7.0v3.6h-7.0zM377.3 280.0h2.5v3.6h-2.5zM401.8 280.0h4.8v3.6h-4.8zM366.1 276.7h15.9v3.6h-15.9zM401.8 276.7h2.5v3.6h-2.5zM368.3 273.3h13.7v3.6h-13.7zM399.6 273.3h4.8v3.6h-4.8zM370.6 270.0h11.4v3.6h-11.4zM395.1 270.0h9.2v3.6h-9.2zM372.8 266.6h9.2v3.6h-9.2zM388.4 266.6h13.7v3.6h-13.7zM459.7 266.6h2.5v3.6h-2.5zM468.7 266.6h2.5v3.6h-2.5zM370.6 263.3h13.7v3.6h-13.7zM390.6 263.3h9.2v3.6h-9.2zM457.5 263.3h2.5v3.6h-2.5zM468.7 263.3h2.5v3.6h-2.5zM368.3 259.9h20.4v3.6h-20.4zM395.1 259.9h4.8v3.6h-4.8zM457.5 259.9h4.8v3.6h-4.8zM468.7 259.9h2.5v3.6h-2.5zM366.1 256.6h22.6v3.6h-22.6zM395.1 256.6h2.5v3.6h-2.5zM462.0 256.6h7.0v3.6h-7.0zM361.7 253.2h27.1v3.6h-27.1zM370.6 249.9h18.1v3.6h-18.1zM370.6 246.5h18.1v3.6h-18.1zM370.6 243.2h18.1v3.6h-18.1zM370.6 239.8h13.7v3.6h-13.7zM370.6 236.5h4.8v3.6h-4.8z"/><path fill="#0058ff" d="M475.3 440.8h2.5v3.6h-2.5zM473.1 437.5h4.8v3.6h-4.8zM470.9 434.1h7.0v3.6h-7.0zM468.7 430.8h9.2v3.6h-9.2zM464.2 427.4h13.7v3.6h-13.7zM455.3 424.1h22.6v3.6h-22.6zM450.8 420.8h27.1v3.6h-27.1zM453.1 417.4h24.8v3.6h-24.8zM459.7 400.6h2.5v3.6h-2.5zM453.1 393.9h2.5v3.6h-2.5zM408.5 390.6h2.5v3.6h-2.5zM406.2 387.2h4.8v3.6h-4.8zM404.0 383.9h7.0v3.6h-7.0zM404.0 380.5h7.0v3.6h-7.0zM404.0 377.2h7.0v3.6h-7.0zM404.0 373.8h4.8v3.6h-4.8zM404.0 370.5h4.8v3.6h-4.8zM404.0 367.1h2.5v3.6h-2.5zM410.7 350.4h4.8v3.6h-4.8zM410.7 347.0h4.8v3.6h-4.8zM410.7 343.7h7.0v3.6h-7.0zM410.7 340.3h7.0v3.6h-7.0zM410.7 337.0h9.2v3.6h-9.2zM437.5 337.0h22.6v3.6h-22.6zM410.7 333.6h11.4v3.6h-11.4zM433.0 333.6h29.3v3.6h-29.3zM410.7 330.3h31.5v3.6h-31.5zM459.7 330.3h4.8v3.6h-4.8zM408.5 326.9h31.5v3.6h-31.5zM462.0 326.9h2.5v3.6h-2.5zM399.6 323.6h15.9v3.6h-15.9zM426.3 323.6h11.4v3.6h-11.4zM462.0 323.6h2.5v3.6h-2.5zM395.1 320.2h24.8v3.6h-24.8zM426.3 320.2h11.4v3.6h-11.4zM462.0 320.2h2.5v3.6h-2.5zM390.6 316.9h31.5v3.6h-31.5zM433.0 316.9h7.0v3.6h-7.0zM462.0 316.9h2.5v3.6h-2.5zM372.8 313.5h47.1v3.6h-47.1zM437.5 313.5h7.0v3.6h-7.0zM459.7 313.5h2.5v3.6h-2.5zM370.6 310.2h47.1v3.6h-47.1zM444.1 310.2h7.0v3.6h-7.0zM453.1 310.2h4.8v3.6h-4.8zM368.3 306.8h4.8v3.6h-4.8zM384.0 306.8h29.3v3.6h-29.3zM368.3 303.5h2.5v3.6h-2.5zM384.0 303.5h9.2v3.6h-9.2zM401.8 303.5h9.2v3.6h-9.2zM368.3 300.1h2.5v3.6h-2.5zM384.0 300.1h7.0v3.6h-7.0zM404.0 300.1h7.0v3.6h-7.0zM384.0 296.8h4.8v3.6h-4.8zM404.0 296.8h4.8v3.6h-4.8zM366.1 293.4h2.5v3.6h-2.5zM384.0 293.4h2.5v3.6h-2.5zM406.2 293.4h2.5v3.6h-2.5zM366.1 290.1h2.5v3.6h-2.5zM381.7 290.1h2.5v3.6h-2.5zM406.2 290.1h2.5v3.6h-2.5zM366.1 286.7h2.5v3.6h-2.5zM406.2 286.7h2.5v3.6h-2.5zM368.3 283.4h9.2v3.6h-9.2zM406.2 283.4h2.5v3.6h-2.5zM370.6 280.0h7.0v3.6h-7.0zM404.0 276.7h2.5v3.6h-2.5zM404.0 273.3h2.5v3.6h-2.5zM404.0 270.0h2.5v3.6h-2.5zM401.8 266.6h9.2v3.6h-9.2zM455.3 266.6h4.8v3.6h-4.8zM399.6 263.3h11.4v3.6h-11.4zM455.3 263.3h2.5v3.6h-2.5zM399.6 259.9h11.4v3.6h-11.4zM453.1 259.9h4.8v3.6h-4.8zM397.3 256.6h13.7v3.6h-13.7zM455.3 256.6h7.0v3.6h-7.0zM468.7 256.6h4.8v3.6h-4.8zM395.1 253.2h15.9v3.6h-15.9zM395.1 249.9h13.7v3.6h-13.7zM399.6 246.5h9.2v3.6h-9.2zM399.6 243.2h7.0v3.6h-7.0zM384.0 239.8h4.8v3.6h-4.8zM399.6 239.8h7.0v3.6h-7.0zM375.0 236.5h11.4v3.6h-11.4zM370.6 233.1h15.9v3.6h-15.9zM370.6 229.8h2.5v3.6h-2.5zM381.7 229.8h4.8v3.6h-4.8zM346.1 219.7h2.5v3.6h-2.5zM384.0 216.4h2.5v3.6h-2.5zM381.7 213.0h4.8v3.6h-4.8z"/><path fill="#0068ff" d="M511.0 424.1h13.7v3.6h-13.7zM511.0 420.8h13.7v3.6h-13.7zM511.0 417.4h13.7v3.6h-13.7zM511.0 414.0h13.7v3.6h-13.7zM482.0 410.7h13.7v3.6h-13.7zM511.0 410.7h13.7v3.6h-13.7zM482.0 407.3h13.7v3.6h-13.7zM511.0 407.3h13.7v3.6h-13.7zM482.0 404.0h13.7v3.6h-13.7zM551.1 404.0h13.7v3.6h-13.7zM462.0 400.6h11.4v3.6h-11.4zM482.0 400.6h11.4v3.6h-11.4zM511.0 400.6h9.2v3.6h-9.2zM544.5 400.6h20.4v3.6h-20.4zM459.7 397.3h15.9v3.6h-15.9zM482.0 397.3h9.2v3.6h-9.2zM515.5 397.3h4.8v3.6h-4.8zM546.7 397.3h18.1v3.6h-18.1zM455.3 393.9h20.4v3.6h-20.4zM477.6 393.9h11.4v3.6h-11.4zM548.9 393.9h15.9v3.6h-15.9zM453.1 390.6h22.6v3.6h-22.6zM477.6 390.6h9.2v3.6h-9.2zM548.9 390.6h15.9v3.6h-15.9zM433.0 387.2h15.9v3.6h-15.9zM453.1 387.2h22.6v3.6h-22.6zM477.6 387.2h9.2v3.6h-9.2zM551.1 387.2h27.1v3.6h-27.1zM433.0 383.9h42.7v3.6h-42.7zM477.6 383.9h7.0v3.6h-7.0zM564.5 383.9h11.4v3.6h-11.4zM426.3 380.5h22.6v3.6h-22.6zM453.1 380.5h22.6v3.6h-22.6zM564.5 380.5h7.0v3.6h-7.0zM426.3 377.2h22.6v3.6h-22.6zM453.1 377.2h18.1v3.6h-18.1zM426.3 373.8h38.2v3.6h-38.2zM526.6 373.8h2.5v3.6h-2.5zM426.3 370.5h31.5v3.6h-31.5zM517.7 370.5h2.5v3.6h-2.5zM526.6 370.5h7.0v3.6h-7.0zM426.3 367.1h27.1v3.6h-27.1zM517.7 367.1h15.9v3.6h-15.9zM426.3 363.8h24.8v3.6h-24.8zM517.7 363.8h15.9v3.6h-15.9zM435.2 360.4h13.7v3.6h-13.7zM517.7 360.4h15.9v3.6h-15.9zM439.7 357.1h11.4v3.6h-11.4zM522.2 357.1h7.0v3.6h-7.0zM439.7 353.8h11.4v3.6h-11.4zM415.2 350.4h9.2v3.6h-9.2zM439.7 350.4h15.9v3.6h-15.9zM415.2 347.0h27.1v3.6h-27.1zM448.6 347.0h13.7v3.6h-13.7zM417.4 343.7h24.8v3.6h-24.8zM455.3 343.7h11.4v3.6h-11.4zM417.4 340.3h24.8v3.6h-24.8zM455.3 340.3h11.4v3.6h-11.4zM419.6 337.0h18.1v3.6h-18.1zM459.7 337.0h9.2v3.6h-9.2zM421.8 333.6h11.4v3.6h-11.4zM462.0 333.6h7.0v3.6h-7.0zM464.2 330.3h4.8v3.6h-4.8zM464.2 326.9h4.8v3.6h-4.8zM464.2 323.6h4.8v3.6h-4.8zM464.2 320.2h2.5v3.6h-2.5zM421.8 316.9h11.4v3.6h-11.4zM464.2 316.9h2.5v3.6h-2.5zM419.6 313.5h18.1v3.6h-18.1zM462.0 313.5h2.5v3.6h-2.5zM417.4 310.2h27.1v3.6h-27.1zM457.5 310.2h4.8v3.6h-4.8zM372.8 306.8h11.4v3.6h-11.4zM412.9 306.8h15.9v3.6h-15.9zM444.1 306.8h13.7v3.6h-13.7zM370.6 303.5h4.8v3.6h-4.8zM377.3 303.5h7.0v3.6h-7.0zM410.7 303.5h15.9v3.6h-15.9zM370.6 300.1h2.5v3.6h-2.5zM379.5 300.1h4.8v3.6h-4.8zM410.7 300.1h11.4v3.6h-11.4zM368.3 296.8h2.5v3.6h-2.5zM381.7 296.8h2.5v3.6h-2.5zM408.5 296.8h9.2v3.6h-9.2zM368.3 293.4h2.5v3.6h-2.5zM381.7 293.4h2.5v3.6h-2.5zM412.9 293.4h2.5v3.6h-2.5zM368.3 290.1h2.5v3.6h-2.5zM379.5 290.1h2.5v3.6h-2.5zM368.3 286.7h9.2v3.6h-9.2zM412.9 283.4h2.5v3.6h-2.5zM412.9 280.0h4.8v3.6h-4.8zM412.9 276.7h13.7v3.6h-13.7zM421.8 273.3h18.1v3.6h-18.1zM426.3 270.0h22.6v3.6h-22.6zM410.7 266.6h11.4v3.6h-11.4zM426.3 266.6h24.8v3.6h-24.8zM410.7 263.3h40.4v3.6h-40.4zM410.7 259.9h42.7v3.6h-42.7zM410.7 256.6h33.7v3.6h-33.7zM453.1 256.6h2.5v3.6h-2.5zM473.1 256.6h2.5v3.6h-2.5zM410.7 253.2h38.2v3.6h-38.2zM453.1 253.2h22.6v3.6h-22.6zM408.5 249.9h40.4v3.6h-40.4zM453.1 249.9h11.4v3.6h-11.4zM408.5 246.5h40.4v3.6h-40.4zM406.2 243.2h11.4v3.6h-11.4zM419.6 243.2h15.9v3.6h-15.9zM406.2 239.8h11.4v3.6h-11.4zM372.8 229.8h9.2v3.6h-9.2zM370.6 226.4h15.9v3.6h-15.9zM372.8 223.1h13.7v3.6h-13.7zM348.3 219.7h11.4v3.6h-11.4zM372.8 219.7h13.7v3.6h-13.7zM346.1 216.4h13.7v3.6h-13.7zM375.0 216.4h9.2v3.6h-9.2zM346.1 213.0h15.9v3.6h-15.9zM375.0 213.0h7.0v3.6h-7.0zM346.1 209.7h4.8v3.6h-4.8zM375.0 209.7h11.4v3.6h-11.4zM346.1 206.3h2.5v3.6h-2.5zM375.0 206.3h11.4v3.6h-11.4z"/><path fill="#0078ff" d="M493.2 400.6h2.5v3.6h-2.5zM506.6 400.6h4.8v3.6h-4.8zM537.8 400.6h7.0v3.6h-7.0zM491.0 397.3h4.8v3.6h-4.8zM497.6 397.3h18.1v3.6h-18.1zM537.8 397.3h9.2v3.6h-9.2zM488.7 393.9h7.0v3.6h-7.0zM497.6 393.9h33.7v3.6h-33.7zM537.8 393.9h11.4v3.6h-11.4zM486.5 390.6h7.0v3.6h-7.0zM497.6 390.6h33.7v3.6h-33.7zM537.8 390.6h11.4v3.6h-11.4zM486.5 387.2h7.0v3.6h-7.0zM497.6 387.2h33.7v3.6h-33.7zM537.8 387.2h13.7v3.6h-13.7zM484.3 383.9h9.2v3.6h-9.2zM497.6 383.9h33.7v3.6h-33.7zM537.8 383.9h13.7v3.6h-13.7zM575.7 383.9h2.5v3.6h-2.5zM477.6 380.5h15.9v3.6h-15.9zM495.4 380.5h36.0v3.6h-36.0zM571.2 380.5h18.1v3.6h-18.1zM470.9 377.2h91.7v3.6h-91.7zM564.5 377.2h24.8v3.6h-24.8zM464.2 373.8h56.0v3.6h-56.0zM528.8 373.8h33.7v3.6h-33.7zM564.5 373.8h24.8v3.6h-24.8zM457.5 370.5h60.5v3.6h-60.5zM533.3 370.5h29.3v3.6h-29.3zM564.5 370.5h22.6v3.6h-22.6zM453.1 367.1h64.9v3.6h-64.9zM533.3 367.1h29.3v3.6h-29.3zM575.7 367.1h4.8v3.6h-4.8zM450.8 363.8h67.2v3.6h-67.2zM533.3 363.8h29.3v3.6h-29.3zM575.7 363.8h2.5v3.6h-2.5zM448.6 360.4h69.4v3.6h-69.4zM533.3 360.4h29.3v3.6h-29.3zM450.8 357.1h42.7v3.6h-42.7zM508.8 357.1h13.7v3.6h-13.7zM528.8 357.1h18.1v3.6h-18.1zM551.1 357.1h15.9v3.6h-15.9zM450.8 353.8h38.2v3.6h-38.2zM513.2 353.8h33.7v3.6h-33.7zM551.1 353.8h15.9v3.6h-15.9zM455.3 350.4h29.3v3.6h-29.3zM517.7 350.4h31.5v3.6h-31.5zM551.1 350.4h15.9v3.6h-15.9zM462.0 347.0h18.1v3.6h-18.1zM546.7 347.0h2.5v3.6h-2.5zM551.1 347.0h15.9v3.6h-15.9zM466.4 343.7h11.4v3.6h-11.4zM551.1 343.7h15.9v3.6h-15.9zM466.4 340.3h11.4v3.6h-11.4zM560.1 340.3h7.0v3.6h-7.0zM468.7 337.0h7.0v3.6h-7.0zM553.4 337.0h13.7v3.6h-13.7zM468.7 333.6h7.0v3.6h-7.0zM555.6 333.6h11.4v3.6h-11.4zM468.7 330.3h4.8v3.6h-4.8zM468.7 323.6h2.5v3.6h-2.5zM466.4 320.2h4.8v3.6h-4.8zM466.4 316.9h2.5v3.6h-2.5zM464.2 313.5h2.5v3.6h-2.5zM462.0 310.2h2.5v3.6h-2.5zM428.5 306.8h9.2v3.6h-9.2zM439.7 306.8h4.8v3.6h-4.8zM457.5 306.8h4.8v3.6h-4.8zM375.0 303.5h2.5v3.6h-2.5zM426.3 303.5h11.4v3.6h-11.4zM439.7 303.5h20.4v3.6h-20.4zM372.8 300.1h7.0v3.6h-7.0zM421.8 300.1h15.9v3.6h-15.9zM439.7 300.1h15.9v3.6h-15.9zM370.6 296.8h2.5v3.6h-2.5zM379.5 296.8h2.5v3.6h-2.5zM417.4 296.8h20.4v3.6h-20.4zM439.7 296.8h13.7v3.6h-13.7zM370.6 293.4h2.5v3.6h-2.5zM379.5 293.4h2.5v3.6h-2.5zM415.2 293.4h22.6v3.6h-22.6zM370.6 290.1h9.2v3.6h-9.2zM412.9 290.1h24.8v3.6h-24.8zM412.9 286.7h22.6v3.6h-22.6zM415.2 283.4h20.4v3.6h-20.4zM417.4 280.0h22.6v3.6h-22.6zM426.3 276.7h22.6v3.6h-22.6zM439.7 273.3h11.4v3.6h-11.4zM448.6 270.0h2.5v3.6h-2.5zM464.2 249.9h11.4v3.6h-11.4zM453.1 246.5h13.7v3.6h-13.7zM435.2 243.2h13.7v3.6h-13.7zM453.1 243.2h7.0v3.6h-7.0zM433.0 239.8h15.9v3.6h-15.9zM433.0 236.5h11.4v3.6h-11.4zM433.0 233.1h2.5v3.6h-2.5zM372.8 216.4h2.5v3.6h-2.5zM372.8 213.0h2.5v3.6h-2.5zM350.5 209.7h11.4v3.6h-11.4zM372.8 209.7h2.5v3.6h-2.5zM348.3 206.3h13.7v3.6h-13.7zM372.8 206.3h2.5v3.6h-2.5zM346.1 203.0h15.9v3.6h-15.9zM348.3 199.6h13.7v3.6h-13.7zM348.3 196.3h7.0v3.6h-7.0z"/><path fill="#0087ff" d="M586.8 370.5h2.5v3.6h-2.5zM580.1 367.1h9.2v3.6h-9.2zM577.9 363.8h11.4v3.6h-11.4zM591.3 360.4h13.7v3.6h-13.7zM493.2 357.1h15.9v3.6h-15.9zM591.3 357.1h13.7v3.6h-13.7zM488.7 353.8h24.8v3.6h-24.8zM575.7 353.8h13.7v3.6h-13.7zM591.3 353.8h13.7v3.6h-13.7zM484.3 350.4h13.7v3.6h-13.7zM504.3 350.4h13.7v3.6h-13.7zM575.7 350.4h13.7v3.6h-13.7zM591.3 350.4h13.7v3.6h-13.7zM479.8 347.0h11.4v3.6h-11.4zM508.8 347.0h2.5v3.6h-2.5zM513.2 347.0h4.8v3.6h-4.8zM533.3 347.0h13.7v3.6h-13.7zM575.7 347.0h13.7v3.6h-13.7zM591.3 347.0h13.7v3.6h-13.7zM477.6 343.7h11.4v3.6h-11.4zM513.2 343.7h4.8v3.6h-4.8zM533.3 343.7h15.9v3.6h-15.9zM575.7 343.7h13.7v3.6h-13.7zM591.3 343.7h13.7v3.6h-13.7zM477.6 340.3h9.2v3.6h-9.2zM517.7 340.3h33.7v3.6h-33.7zM575.7 340.3h13.7v3.6h-13.7zM475.3 337.0h11.4v3.6h-11.4zM524.4 337.0h4.8v3.6h-4.8zM535.5 337.0h15.9v3.6h-15.9zM575.7 337.0h13.7v3.6h-13.7zM475.3 333.6h9.2v3.6h-9.2zM526.6 333.6h2.5v3.6h-2.5zM535.5 333.6h15.9v3.6h-15.9zM553.4 333.6h2.5v3.6h-2.5zM473.1 330.3h9.2v3.6h-9.2zM537.8 330.3h13.7v3.6h-13.7zM553.4 330.3h13.7v3.6h-13.7zM475.3 326.9h4.8v3.6h-4.8zM537.8 326.9h13.7v3.6h-13.7zM553.4 326.9h13.7v3.6h-13.7zM470.9 323.6h4.8v3.6h-4.8zM537.8 323.6h11.4v3.6h-11.4zM470.9 320.2h2.5v3.6h-2.5zM468.7 316.9h2.5v3.6h-2.5zM466.4 313.5h2.5v3.6h-2.5zM464.2 310.2h4.8v3.6h-4.8zM462.0 306.8h4.8v3.6h-4.8zM459.7 303.5h4.8v3.6h-4.8zM455.3 300.1h7.0v3.6h-7.0zM372.8 296.8h7.0v3.6h-7.0zM453.1 296.8h9.2v3.6h-9.2zM372.8 293.4h7.0v3.6h-7.0zM448.6 293.4h13.7v3.6h-13.7zM448.6 290.1h13.7v3.6h-13.7zM448.6 276.7h2.5v3.6h-2.5zM466.4 246.5h9.2v3.6h-9.2zM459.7 243.2h7.0v3.6h-7.0zM444.1 236.5h4.8v3.6h-4.8zM435.2 233.1h13.7v3.6h-13.7zM437.5 229.8h13.7v3.6h-13.7zM437.5 226.4h22.6v3.6h-22.6zM437.5 223.1h22.6v3.6h-22.6zM437.5 219.7h22.6v3.6h-22.6zM437.5 216.4h22.6v3.6h-22.6zM437.5 213.0h22.6v3.6h-22.6zM448.6 209.7h11.4v3.6h-11.4zM355.0 196.3h7.0v3.6h-7.0z"/><path fill="#0097ff" d="M497.6 350.4h7.0v3.6h-7.0zM491.0 347.0h18.1v3.6h-18.1zM488.7 343.7h22.6v3.6h-22.6zM486.5 340.3h31.5v3.6h-31.5zM486.5 337.0h38.2v3.6h-38.2zM484.3 333.6h4.8v3.6h-4.8zM497.6 333.6h29.3v3.6h-29.3zM482.0 330.3h7.0v3.6h-7.0zM497.6 330.3h31.5v3.6h-31.5zM479.8 326.9h49.3v3.6h-49.3zM475.3 323.6h53.8v3.6h-53.8zM548.9 323.6h2.5v3.6h-2.5zM473.1 320.2h49.3v3.6h-49.3zM470.9 316.9h4.8v3.6h-4.8zM484.3 316.9h22.6v3.6h-22.6zM548.9 316.9h13.7v3.6h-13.7zM468.7 313.5h4.8v3.6h-4.8zM491.0 313.5h29.3v3.6h-29.3zM548.9 313.5h13.7v3.6h-13.7zM468.7 310.2h2.5v3.6h-2.5zM506.6 310.2h13.7v3.6h-13.7zM548.9 310.2h13.7v3.6h-13.7zM466.4 306.8h2.5v3.6h-2.5zM517.7 306.8h2.5v3.6h-2.5zM548.9 306.8h11.4v3.6h-11.4zM464.2 303.5h2.5v3.6h-2.5zM462.0 300.1h4.8v3.6h-4.8zM462.0 296.8h4.8v3.6h-4.8zM462.0 293.4h4.8v3.6h-4.8zM462.0 290.1h4.8v3.6h-4.8zM473.1 270.0h2.5v3.6h-2.5zM482.0 263.3h7.0v3.6h-7.0zM464.2 209.7h13.7v3.6h-13.7zM464.2 206.3h13.7v3.6h-13.7zM464.2 203.0h13.7v3.6h-13.7zM464.2 199.6h13.7v3.6h-13.7zM464.2 196.3h13.7v3.6h-13.7zM464.2 192.9h13.7v3.6h-13.7z"/><path fill="#00a7ff" d="M482.0 316.9h2.5v3.6h-2.5zM473.1 313.5h11.4v3.6h-11.4zM486.5 313.5h4.8v3.6h-4.8zM470.9 310.2h4.8v3.6h-4.8zM488.7 310.2h18.1v3.6h-18.1zM468.7 306.8h4.8v3.6h-4.8zM491.0 306.8h27.1v3.6h-27.1zM560.1 306.8h2.5v3.6h-2.5zM466.4 303.5h4.8v3.6h-4.8zM495.4 303.5h24.8v3.6h-24.8zM548.9 303.5h13.7v3.6h-13.7zM466.4 300.1h2.5v3.6h-2.5zM504.3 300.1h15.9v3.6h-15.9zM548.9 300.1h15.9v3.6h-15.9zM466.4 296.8h2.5v3.6h-2.5zM511.0 296.8h9.2v3.6h-9.2zM466.4 293.4h2.5v3.6h-2.5zM513.2 293.4h4.8v3.6h-4.8zM466.4 290.1h4.8v3.6h-4.8zM513.2 283.4h2.5v3.6h-2.5zM508.8 280.0h9.2v3.6h-9.2zM504.3 276.7h15.9v3.6h-15.9zM508.8 273.3h11.4v3.6h-11.4zM475.3 270.0h4.8v3.6h-4.8zM491.0 270.0h9.2v3.6h-9.2zM508.8 270.0h11.4v3.6h-11.4zM482.0 266.6h18.1v3.6h-18.1zM508.8 266.6h11.4v3.6h-11.4zM488.7 263.3h11.4v3.6h-11.4zM508.8 263.3h11.4v3.6h-11.4z"/><path fill="#00b7ff" d="M475.3 310.2h9.2v3.6h-9.2zM486.5 310.2h2.5v3.6h-2.5zM473.1 306.8h18.1v3.6h-18.1zM470.9 303.5h4.8v3.6h-4.8zM484.3 303.5h11.4v3.6h-11.4zM468.7 300.1h4.8v3.6h-4.8zM486.5 300.1h18.1v3.6h-18.1zM564.5 300.1h11.4v3.6h-11.4zM468.7 296.8h4.8v3.6h-4.8zM488.7 296.8h22.6v3.6h-22.6zM562.3 296.8h13.7v3.6h-13.7zM468.7 293.4h4.8v3.6h-4.8zM488.7 293.4h24.8v3.6h-24.8zM562.3 293.4h13.7v3.6h-13.7zM470.9 290.1h4.8v3.6h-4.8zM486.5 290.1h31.5v3.6h-31.5zM546.7 290.1h13.7v3.6h-13.7zM562.3 290.1h13.7v3.6h-13.7zM473.1 286.7h2.5v3.6h-2.5zM493.2 286.7h24.8v3.6h-24.8zM557.8 286.7h2.5v3.6h-2.5zM562.3 286.7h13.7v3.6h-13.7zM493.2 283.4h20.4v3.6h-20.4zM515.5 283.4h2.5v3.6h-2.5zM524.4 283.4h13.7v3.6h-13.7zM562.3 283.4h13.7v3.6h-13.7zM488.7 280.0h11.4v3.6h-11.4zM504.3 280.0h4.8v3.6h-4.8zM517.7 280.0h4.8v3.6h-4.8zM524.4 280.0h2.5v3.6h-2.5zM488.7 276.7h11.4v3.6h-11.4zM519.9 276.7h2.5v3.6h-2.5zM473.1 273.3h2.5v3.6h-2.5zM486.5 273.3h13.7v3.6h-13.7zM519.9 273.3h2.5v3.6h-2.5zM524.4 273.3h2.5v3.6h-2.5zM479.8 270.0h11.4v3.6h-11.4zM519.9 270.0h2.5v3.6h-2.5zM524.4 270.0h2.5v3.6h-2.5zM519.9 266.6h2.5v3.6h-2.5zM524.4 266.6h13.7v3.6h-13.7zM519.9 263.3h2.5v3.6h-2.5z"/><path fill="#00c7ff" d="M475.3 303.5h9.2v3.6h-9.2zM473.1 300.1h13.7v3.6h-13.7zM473.1 296.8h15.9v3.6h-15.9zM473.1 293.4h15.9v3.6h-15.9zM479.8 290.1h7.0v3.6h-7.0zM475.3 286.7h11.4v3.6h-11.4zM546.7 286.7h11.4v3.6h-11.4zM473.1 283.4h13.7v3.6h-13.7zM546.7 283.4h13.7v3.6h-13.7zM473.1 280.0h2.5v3.6h-2.5zM482.0 280.0h7.0v3.6h-7.0zM526.6 280.0h11.4v3.6h-11.4zM546.7 280.0h13.7v3.6h-13.7zM473.1 276.7h4.8v3.6h-4.8zM479.8 276.7h9.2v3.6h-9.2zM524.4 276.7h13.7v3.6h-13.7zM546.7 276.7h13.7v3.6h-13.7zM475.3 273.3h11.4v3.6h-11.4zM526.6 273.3h11.4v3.6h-11.4zM546.7 273.3h13.7v3.6h-13.7zM526.6 270.0h11.4v3.6h-11.4z"/><path fill="#00d7ff" d="M475.3 280.0h7.0v3.6h-7.0zM477.6 276.7h2.5v3.6h-2.5z"/></g>
<clipPath id="cp"><rect x="123.5" y="49.5" width="535" height="536"/></clipPath>
<path clip-path="url(#cp)" d="M151.0 49.3 L154.8 51.3 L156.5 55.6 L155.5 58.9 L157.8 63.9 L160.3 64.6 L162.0 71.4 L163.6 80.2 L164.1 87.8 L162.0 96.6 L161.0 100.3 L164.1 103.4 L168.3 105.9 L171.6 105.4 L175.9 100.3 L180.4 96.6 L183.7 92.0 L185.4 90.8 L188.4 92.3 L191.0 97.3 L192.5 105.4 L193.7 115.4 L195.5 123.0 L197.5 131.8 L199.8 140.6 L201.3 148.6 L199.3 153.1 L198.5 158.2 L200.0 163.2 L200.0 169.5 L198.0 175.8 L197.2 183.3 L196.7 190.9 L197.5 197.1 L198.5 204.9 M210.6 200.9 L206.8 190.9 L205.0 180.8 L206.8 170.7 L209.3 160.7 L211.3 150.6 L211.8 140.6 L213.1 137.6 L216.1 136.0 L219.4 138.1 L219.9 144.3 L223.1 145.6 L226.9 146.1 L230.7 149.4 L234.5 153.1 L237.0 158.2 L238.7 163.2 L241.2 169.5 L244.5 173.3 L248.3 174.5 L250.8 177.0 L253.3 179.5 L256.6 182.1 L256.3 189.6 L255.8 197.1 L257.1 199.7 L260.9 195.4 L264.6 192.1 L268.9 189.6 L270.9 184.6 L271.4 177.8 L274.7 177.0 L279.0 174.5 L283.5 170.7 L288.5 167.0 L293.0 163.7 L294.8 153.1 L295.6 140.6 L294.8 128.0 L293.0 117.9 L291.0 111.7 L287.3 105.4 L283.5 99.1 L278.5 91.5 L273.4 84.0 L268.9 76.5 L267.1 71.4 L263.4 66.4 L261.6 62.1 L262.6 55.1 L265.1 49.3 M301.1 49.3 L296.1 52.1 L291.5 55.6 L289.3 60.1 L289.8 66.4 L292.3 70.2 L296.6 72.2 L301.1 70.2 L304.9 65.1 L308.1 58.9 L310.4 53.8 L310.4 49.3 M148.5 136.0 L149.7 136.3 L149.7 138.1 L148.5 137.8Z M147.7 143.8 L149.0 144.1 L148.2 151.9 L147.2 160.2 L146.0 159.9 L146.7 151.9Z M397.4 68.2 L401.7 67.7 L405.4 70.7 L409.2 71.4 L411.0 69.4 L411.0 77.7 L412.5 86.5 L411.7 94.1 L408.4 101.6 L404.7 107.4 L403.4 114.2 L404.7 121.7 L406.7 128.5 L411.7 127.5 L416.7 126.7 L421.0 128.5 L425.0 131.8 L423.5 136.8 L425.5 141.8 L426.8 144.3 L423.5 143.6 L420.0 139.3 L417.5 134.3 L415.0 133.5 L413.5 136.8 L413.7 140.6 L411.0 136.8 L409.2 133.0 L406.7 130.5 L403.4 133.5 L400.4 135.0 L397.4 131.8 L396.6 126.7 L398.4 121.7 L395.9 120.0 L394.1 123.0 L391.6 116.7 L390.3 107.9 L389.1 100.3 L392.4 99.8 L394.1 91.5 L394.9 85.3 L393.4 80.2 L394.9 73.9Z M394.9 138.1 L399.1 136.8 L402.9 139.3 L404.7 144.3 L404.2 149.4 L401.7 153.1 L399.1 150.6 L396.6 144.3Z M429.8 149.9 L434.3 148.9 L438.6 149.4 L439.9 155.7 L439.4 163.2 L441.1 167.0 L438.1 169.5 L436.9 174.5 L436.9 179.5 L434.3 180.3 L432.6 175.8 L433.1 169.5 L430.6 165.7 L432.3 160.7 L433.6 156.9 L430.6 154.4Z M407.9 158.2 L413.0 158.7 L414.2 163.2 L418.0 164.0 L418.8 170.7 L421.8 172.0 L424.3 174.5 L426.0 169.5 L426.8 175.8 L428.1 180.8 L430.6 183.3 L430.1 187.1 L426.8 185.8 L424.3 184.6 L423.0 188.3 L420.5 189.6 L418.5 192.1 L416.7 195.9 L414.2 192.1 L413.0 185.8 L414.2 179.5 L413.5 177.0 L409.2 175.8 L407.4 170.7 L408.4 164.5Z M385.8 166.5 L387.3 170.7 L387.8 175.8 L384.1 182.1 L379.0 189.6 L372.7 197.1 L367.7 202.9 L366.0 202.2 L370.2 195.9 L376.5 187.1 L381.5 178.3 L384.1 172.0Z M198.5 203.9 L201.8 208.2 L206.8 213.9 L210.6 220.2 L213.6 227.8 L215.6 236.6 L217.6 245.4 L218.1 252.9 L220.6 260.5 L223.1 268.0 L226.2 276.8 L230.2 283.1 L234.5 288.1 L239.5 293.1 L244.5 296.9 L249.0 297.7 L249.5 294.4 L248.3 288.1 L245.8 281.8 L243.3 276.8 L242.0 268.0 L241.5 257.9 L240.7 247.9 L238.2 241.6 L234.5 236.6 L230.2 231.5 L226.2 226.5 L220.6 224.0 L217.6 221.5 L215.6 215.2 L214.3 207.7 L211.8 200.9 M219.4 344.9 L216.9 333.4 L214.3 324.6 L210.6 317.0 L206.8 310.7 L203.5 303.2 L201.8 294.4 L198.0 286.9 L194.2 280.6 L189.2 274.3 L184.2 266.7 L179.1 261.7 L174.1 254.2 L171.1 247.9 L170.3 241.6 L175.4 240.8 L181.7 244.9 L187.9 247.9 L193.0 252.9 L198.0 260.5 L203.5 268.0 L209.3 275.0 L215.6 281.8 L220.6 286.9 L224.4 288.1 L228.2 291.9 L233.2 296.9 L238.2 300.7 L240.7 305.7 L242.0 312.0 L245.8 317.0 L247.8 323.3 L250.8 328.3 L255.8 330.9 L258.3 337.1 L260.9 344.9 M174.9 278.1 L177.4 279.3 L179.6 283.6 L177.9 284.3 L175.4 281.1Z M188.4 297.7 L191.0 298.7 L194.2 305.7 L193.0 308.2 L190.0 304.5Z M201.8 329.6 L204.3 330.9 L206.0 338.4 L204.3 339.9 L201.8 334.6Z M330.0 268.0 L323.7 273.0 L316.7 278.1 L313.7 285.6 L311.1 294.4 L307.4 295.7 L302.3 291.9 L297.3 290.6 L293.5 294.4 L292.3 300.7 L293.5 308.2 L295.6 315.8 L297.3 325.8 L298.6 335.9 L299.8 344.9 M409.0 225.1 L408.4 220.7 L408.4 215.7 L409.6 211.3 L412.1 208.8 L415.3 207.5 L417.8 203.8 L420.3 201.3 L422.8 201.9 L424.1 205.0 L425.3 207.5 L427.2 205.0 L430.4 202.5 L432.9 200.0 L433.5 196.9 L436.0 198.1 L437.9 196.9 L439.2 191.8 L439.2 186.8 L441.7 188.1 L444.2 191.8 L446.1 195.6 L447.3 200.0 L448.0 205.0 L448.6 210.7 L449.0 215.7 L448.0 220.7 L446.7 226.4 L445.5 230.8 L444.2 227.7 L442.9 223.3 L441.7 219.5 L440.4 221.4 L438.5 225.8 L440.4 228.3 L441.7 232.1 L441.4 235.8 L439.8 239.6 L439.2 241.5 L436.7 239.6 L433.5 237.7 L430.4 235.2 L427.9 232.1 L426.0 228.3 L426.3 223.3 L427.2 218.9 L425.3 215.7 L422.8 213.2 L420.9 213.8 L419.1 217.0 L415.9 218.9 L413.4 218.9 L411.8 216.3 L413.4 213.6 L415.3 214.2 L415.9 218.5 L413.4 219.2 L410.9 221.4Z M330.0 269.3 L333.8 263.0 L338.8 255.4 L345.1 251.7 L350.1 246.6 L353.9 239.1 L357.7 232.8 L361.4 226.5 L363.9 224.0 L367.7 227.8 L370.2 232.8 L371.5 240.3 L376.5 242.9 L382.8 246.6 L379.0 249.1 L375.8 252.9 L377.8 257.9 L374.0 263.0 L370.2 266.7 L367.7 273.0 L369.0 280.6 L371.5 288.1 L374.8 293.1 L379.0 298.2 L381.0 302.7 M460.7 288.1 L462.0 293.1 L463.3 298.2 L467.0 296.2 L468.3 300.7 L465.8 305.7 L467.0 310.7 L463.3 312.0 L462.0 317.0 L463.3 323.3 L465.8 328.3 L463.3 327.1 L459.5 322.1 L458.2 315.8 L459.5 309.5 L457.0 304.5 L455.7 298.2 L457.7 291.9Z M482.9 318.8 L487.1 316.3 L490.9 319.5 L487.9 322.8Z M455.7 338.9 L458.7 334.6 L463.8 339.7Z M430.6 339.7 L434.3 338.4 L438.6 340.9 L435.6 343.4 L431.1 342.9Z M527.9 326.3 L532.4 325.1 L535.7 330.9 L532.4 332.6Z M219.4 345.0 L223.1 351.3 L228.2 358.8 L233.2 367.6 L238.2 375.2 L243.3 381.5 L248.3 386.5 L253.3 391.5 L255.8 390.3 L258.3 391.5 L262.1 392.8 L263.4 385.2 L263.9 377.7 L264.6 370.1 L265.9 362.6 L267.1 355.1 L264.6 348.8 L260.9 345.0 M300.0 407.4 L297.7 407.1 L292.7 406.7 L289.6 405.5 L288.3 402.3 L285.8 399.8 L282.0 398.6 L278.3 396.1 L275.1 394.8 L271.3 396.7 L267.6 395.4 L265.1 394.8 L263.8 399.2 L261.3 405.5 L265.1 407.4 L268.8 409.9 L270.7 413.7 L274.5 414.3 L278.3 416.2 L282.0 418.7 L285.8 420.6 L290.2 420.9 L295.2 420.6 L299.0 421.2 L300.0 421.5 M302.3 345.0 L303.6 353.8 L308.6 355.6 L314.9 353.8 L317.4 362.6 L323.7 360.6 L330.0 358.8 M280.5 351.3 L286.0 352.5 L284.7 358.8 L280.5 357.6Z M500.0 321.4 L506.3 323.9 L512.6 326.4 L515.6 331.4 L516.3 337.7 L514.6 344.0 L517.6 350.3 L521.4 356.6 L525.1 360.8 L528.9 360.3 L531.4 356.6 L533.9 350.3 L537.7 346.5 L541.5 344.0 L545.3 339.7 L550.3 336.5 L556.6 340.2 L562.9 344.0 L570.4 347.8 L576.7 351.5 L584.2 355.8 L591.8 360.3 L599.3 364.1 L605.6 367.9 L611.9 372.9 L616.9 377.9 L620.2 383.0 L620.7 389.3 L624.5 391.8 L629.5 395.5 L634.5 395.5 L638.3 399.3 L637.8 404.3 L633.3 408.1 L632.0 411.9 L634.5 416.9 L638.3 421.9 L642.1 427.0 L645.3 433.3 L647.1 438.3 L650.9 437.0 L652.1 442.1 L654.6 445.8 L658.4 445.3 M658.4 391.0 L650.9 389.3 L643.3 390.5 L644.6 392.5 L649.6 396.8 L654.6 399.3 L658.4 400.6 M500.0 356.6 L503.8 361.6 L506.3 367.9 L511.3 364.9 L517.6 369.1 L525.1 374.2 L533.9 377.9 L542.7 383.0 L549.0 388.0 L552.8 395.5 L555.3 404.3 L557.3 413.1 L552.8 415.2 L550.3 421.9 L548.3 427.7 L554.1 425.7 L560.3 424.5 L567.4 423.7 L570.4 428.2 L574.2 433.3 L579.2 437.0 L585.5 438.3 L591.8 440.3 L596.8 437.0 L597.6 429.5 L600.6 424.5 L604.3 419.4 L609.4 416.9 L615.7 419.4 L620.7 423.2 L624.5 430.7 L628.2 438.3 L633.3 444.6 L637.0 449.6 L644.6 451.6 L652.1 453.4 L657.1 457.1 L658.4 460.9 M627.7 344.8 L629.5 343.2 L633.3 343.2 L635.3 344.8 L633.3 346.5 L629.5 346.5Z M518.9 390.0 L521.4 395.5 L520.1 403.1 L516.8 408.6 L515.6 403.1 L517.1 395.5Z M440.0 512.9 L443.8 512.4 L445.0 507.9 L450.1 506.6 L452.1 503.4 L456.3 504.1 L459.6 509.1 L462.6 514.2 L463.9 520.5 L467.7 517.4 L471.4 515.9 L475.2 517.9 L477.7 520.5 L477.2 515.4 L474.7 512.9 L477.2 506.6 L479.0 500.3 L482.7 498.3 L484.0 492.8 L486.5 487.8 L490.3 483.2 L496.6 481.5 L501.6 482.2 L502.9 476.5 L500.8 470.2 L505.9 471.4 L511.7 475.2 L519.2 478.2 L526.7 481.5 L530.5 480.2 L534.3 484.8 L535.5 481.5 L538.1 479.0 L541.8 483.2 L540.1 489.0 L538.6 495.3 L533.5 495.8 L533.0 505.4 L531.0 512.9 L529.3 517.9 L533.0 523.0 L536.8 525.5 L538.6 530.5 L544.3 531.0 L549.4 535.5 L555.7 540.6 L561.9 544.3 L564.5 549.4 L569.5 555.7 L574.5 554.4 L577.8 551.9 L578.3 544.3 L580.8 536.8 L583.3 528.0 L584.1 517.9 L583.3 507.9 L584.6 497.8 L585.3 487.8 L585.8 479.0 L588.3 475.2 L588.8 466.4 L590.9 462.6 L593.9 465.1 L594.6 472.7 L597.1 481.5 L599.7 490.3 L601.4 499.1 L603.4 507.9 L605.9 510.4 L610.5 509.1 L613.5 512.9 L616.8 517.9 L617.3 528.0 L619.0 539.3 L622.3 548.1 L623.5 555.7 L623.0 563.2 L626.1 569.5 L631.1 574.5 L636.1 577.8 L639.9 583.3 L641.6 585.3 M480.7 471.4 L485.3 469.7 L491.5 468.9 L492.8 472.2 L489.0 476.5 L484.0 475.2 L480.7 473.9Z M492.7 411.9 L494.8 413.2 L493.9 418.9 L490.7 422.9 L489.5 421.4 L490.7 415.7Z M383.1 585.1 L389.4 583.8 L394.4 582.6 L398.2 580.8 L401.9 577.0 L404.5 572.0 L407.0 567.0 L410.2 561.9 L409.5 555.7 L410.2 549.4 L413.3 544.3 L417.0 539.3 L418.3 543.1 L419.5 548.1 L422.1 550.6 L424.6 545.6 L423.3 539.3 L424.6 535.0 L428.3 536.8 L431.4 533.0 L432.1 526.7 L434.6 521.7 L437.1 515.4 L438.9 513.4 L443.4 513.7 L444.7 509.1 L448.5 507.9 L451.0 504.1 L453.5 502.9 L457.3 505.4 L459.8 509.1 L461.5 514.2 L464.8 517.4 L464.0 520.5 L467.3 519.2 L469.8 516.7 L473.6 517.9 L476.6 521.0 L477.4 515.4 L474.1 512.9 L476.6 506.6 L479.1 500.3 L482.4 499.1 L483.2 492.8 L486.2 486.5 L489.9 482.7 L495.0 481.5 L500.0 481.5 M383.9 342.0 L384.5 334.2 L385.7 328.5 L387.6 324.1 L388.3 319.1 L388.9 312.8 L390.1 307.1 L392.0 307.1 L396.4 306.5 L398.3 299.6 L406.5 301.5 L415.3 304.3 L421.6 303.7 L427.9 300.5 L432.9 295.5 L435.4 293.3 L437.3 295.8 L436.0 300.5 L432.9 305.5 L427.9 309.9 L422.2 311.8 L417.8 310.3 L410.3 309.7 L402.7 310.3 L396.4 310.9 L392.0 312.2 L390.8 316.6 L391.4 322.9 L393.9 327.9 L396.4 333.5 L399.6 334.2 L402.7 330.4 L407.7 327.9 L412.8 326.0 L417.2 324.7 L419.7 325.4 L420.3 328.5 L416.5 329.1 L413.4 331.0 L410.3 334.2 L407.7 337.9 L405.2 342.0 M405.2 342.0 L407.1 345.8 L409.3 349.5 L410.3 353.9 L411.8 357.7 L410.9 359.6 L409.0 363.4 L411.5 365.3 L414.0 368.4 L415.9 372.2 L417.8 376.6 L419.3 381.0 L419.1 387.3 L417.2 391.0 L414.7 392.5 L412.5 390.4 L412.1 386.0 L411.8 381.0 L410.0 378.5 L408.4 379.7 L405.5 376.6 L405.0 372.2 L402.7 369.0 L400.2 365.9 L398.7 362.1 L399.2 358.3 L399.6 353.1 L397.1 353.3 L393.9 355.2 L392.9 359.6 L393.7 365.9 L393.3 372.2 L393.7 378.5 L394.2 384.7 L393.3 389.8 L390.1 391.0 L387.0 389.8 L386.4 383.5 L387.4 377.2 L387.9 370.9 L387.0 365.3 L383.9 363.4 L380.7 360.9 L379.8 355.8 L380.7 351.4 L382.6 347.0 L383.9 342.0 M430.6 339.9 L438.1 341.1 L437.3 343.6 L431.4 343.2Z M459.1 334.4 L463.3 339.4 L456.1 338.9Z M330.0 357.8 L336.7 360.3 L342.6 365.4 L344.2 371.2 L348.4 367.4 L353.5 364.5 L357.7 358.7 L358.8 352.0 L360.2 346.9 L357.7 340.2 L360.2 336.9 L363.5 332.7 L366.0 325.1 L367.7 320.1 L369.4 311.7 L370.7 306.7 L375.3 305.0 L380.3 302.5 L379.8 300.0 L381.1 297.5 M300.0 407.6 L304.2 406.8 L308.4 401.7 L313.4 404.2 L318.4 406.8 L323.5 409.3 L326.8 410.1 L331.0 408.8 L336.0 408.8 L334.4 411.8 L330.2 413.1 L326.8 412.6 L326.0 415.1 L329.3 417.7 L333.5 416.8 L337.7 418.5 L340.7 420.2 L340.7 426.0 L340.2 431.1 L336.0 428.9 L330.2 426.0 L325.1 427.7 L320.1 425.5 L314.2 424.7 L308.4 423.5 L303.4 422.9 L300.0 422.4 M343.2 428.2 L346.9 426.9 L351.1 429.9 L347.8 432.7 L344.9 431.6Z M356.2 428.2 L359.5 427.7 L360.0 431.1 L358.7 435.3 L355.3 435.3 L355.0 431.9Z M362.0 431.9 L366.2 430.2 L369.6 428.6 L371.2 425.2 L373.8 424.4 L374.6 427.7 L377.1 426.0 L379.6 426.9 L381.3 430.2 L381.8 433.2 L377.9 432.7 L373.8 433.9 L370.4 436.1 L367.0 438.3 L363.4 438.6 L361.7 435.3Z M389.7 429.4 L393.0 427.2 L397.2 426.9 L400.6 429.4 L404.8 431.1 L409.0 429.9 L412.3 428.9 L414.8 426.0 L416.5 424.4 L418.2 425.5 L416.5 429.4 L414.0 431.9 L410.6 433.9 L407.3 436.1 L403.1 435.6 L401.4 437.3 L398.1 435.3 L393.9 433.9 L390.5 432.7Z M420.7 428.2 L422.7 427.5 L424.9 428.6 L423.2 430.2 L421.0 429.9Z M429.1 426.0 L435.8 427.2 L430.7 429.9Z M442.8 418.8 L446.7 418.2 L447.5 421.8 L443.3 422.7Z M381.8 443.3 L386.3 441.6 L391.4 442.3 L395.5 446.2 L398.6 450.0 L395.5 453.7 L392.2 451.2 L388.8 447.8 L383.8 446.7Z M421.5 455.0 L422.4 447.8 L424.9 442.8 L429.1 438.6 L434.1 433.9 L440.0 431.1 L446.0 429.4 L452.5 428.9 L457.6 429.9 L454.2 432.7 L446.0 436.1 L442.5 438.6 L438.3 442.0 L434.1 446.2 L430.7 451.2 L426.6 453.7Z M455.9 338.9 L459.3 334.4 L463.5 339.4Z M482.7 318.4 L486.9 316.4 L490.3 319.8 L486.9 322.6Z M500.0 321.5 L497.8 321.8 L494.5 326.0 L490.3 328.5 L487.8 332.7 L490.3 336.5 L493.3 337.7 L495.3 339.4 L497.0 343.9 L500.3 346.1 L505.4 346.6 L509.6 345.6 L513.4 343.9 L513.8 348.6 L512.1 350.3 L506.2 351.1 L502.9 353.6 L497.0 354.0 L500.0 356.7 M461.8 357.8 L465.1 355.0 L470.2 354.0 L476.0 354.5 L481.1 356.2 L484.4 359.5 L486.1 364.5 L486.6 367.9 L482.7 365.4 L477.7 362.9 L472.7 361.2 L467.7 362.0 L464.3 362.4 L461.8 360.3Z M444.2 360.3 L447.5 357.8 L452.6 359.0 L454.2 363.7 L451.7 367.9 L447.5 366.2 L445.0 363.7Z M528.0 326.0 L533.0 325.1 L535.5 331.0 L532.2 332.2Z M257.9 339.6 L263.4 336.9 L267.5 342.3 L270.3 350.6 L272.2 356.0 L268.9 354.7 L264.8 349.2 L260.7 347.8 L258.5 343.7Z" fill="none" stroke="#000" stroke-width="2.3" stroke-linejoin="round" stroke-linecap="round"/>
<path clip-path="url(#cp)" d="M123.5 215 L236 215 L241 217 L290 219.3 L330 220 L400 219.5 L430 218.5 L460 217 L476 216.3 L480 215 L504 214.8 L511 213.2 L601 213.2 L607 215 L630 216 L659 217.5" fill="none" stroke="#000" stroke-width="2" stroke-dasharray="8 8" stroke-dashoffset="1"/>
<rect x="123.5" y="49.5" width="535.0" height="536.0" fill="none" stroke="#262626" stroke-width="1"/>
<path d="M123.5 585.5v-5.5M123.5 49.5v5.5M212.7 585.5v-5.5M212.7 49.5v5.5M301.8 585.5v-5.5M301.8 49.5v5.5M391.0 585.5v-5.5M391.0 49.5v5.5M480.2 585.5v-5.5M480.2 49.5v5.5M569.3 585.5v-5.5M569.3 49.5v5.5M658.5 585.5v-5.5M658.5 49.5v5.5M123.5 585.5h5.5M658.5 585.5h-5.5M123.5 518.5h5.5M658.5 518.5h-5.5M123.5 451.5h5.5M658.5 451.5h-5.5M123.5 384.5h5.5M658.5 384.5h-5.5M123.5 317.5h5.5M658.5 317.5h-5.5M123.5 250.5h5.5M658.5 250.5h-5.5M123.5 183.5h5.5M658.5 183.5h-5.5M123.5 116.5h5.5M658.5 116.5h-5.5M123.5 49.5h5.5M658.5 49.5h-5.5" stroke="#262626" stroke-width="1" fill="none"/>
<text transform="translate(122.7,615) scale(0.945,1)" font-size="22" text-anchor="middle">90</text>
<text transform="translate(211.9,615) scale(0.945,1)" font-size="22" text-anchor="middle">100</text>
<text transform="translate(301.0,615) scale(0.945,1)" font-size="22" text-anchor="middle">110</text>
<text transform="translate(390.2,615) scale(0.945,1)" font-size="22" text-anchor="middle">120</text>
<text transform="translate(479.4,615) scale(0.945,1)" font-size="22" text-anchor="middle">130</text>
<text transform="translate(568.5,615) scale(0.945,1)" font-size="22" text-anchor="middle">140</text>
<text transform="translate(657.7,615) scale(0.945,1)" font-size="22" text-anchor="middle">150</text>
<text transform="translate(113,594.4) scale(0.945,1)" font-size="22" text-anchor="end">-20</text>
<text transform="translate(113,527.4) scale(0.945,1)" font-size="22" text-anchor="end">-15</text>
<text transform="translate(113,460.4) scale(0.945,1)" font-size="22" text-anchor="end">-10</text>
<text transform="translate(113,393.4) scale(0.945,1)" font-size="22" text-anchor="end">-5</text>
<text transform="translate(113,326.4) scale(0.945,1)" font-size="22" text-anchor="end">0</text>
<text transform="translate(113,259.4) scale(0.945,1)" font-size="22" text-anchor="end">5</text>
<text transform="translate(113,192.4) scale(0.945,1)" font-size="22" text-anchor="end">10</text>
<text transform="translate(113,125.4) scale(0.945,1)" font-size="22" text-anchor="end">15</text>
<text transform="translate(113,58.4) scale(0.945,1)" font-size="22" text-anchor="end">20</text>
<text x="390.5" y="39" font-size="22.9" font-weight="bold" text-anchor="middle" style="fill:#000;stroke:#000">04-Feb-2024; 00:00 UT</text>
<text x="390" y="646" font-size="22.9" text-anchor="middle">Geographic Lon. (<tspan dx="2" dy="4" font-size="25">°</tspan><tspan dx="2" dy="-4">)</tspan></text>
<text transform="translate(70.2,316.5) rotate(-90)" font-size="22.9" text-anchor="middle">Geographic Lat. (<tspan dx="2" dy="4" font-size="25">°</tspan><tspan dx="2" dy="-4">)</tspan></text>
<rect x="697.5" y="577.12" width="42.0" height="8.88" fill="#000087"/>
<rect x="697.5" y="568.75" width="42.0" height="8.88" fill="#000097"/>
<rect x="697.5" y="560.38" width="42.0" height="8.88" fill="#0000a7"/>
<rect x="697.5" y="552.00" width="42.0" height="8.88" fill="#0000b7"/>
<rect x="697.5" y="543.62" width="42.0" height="8.88" fill="#0000c7"/>
<rect x="697.5" y="535.25" width="42.0" height="8.88" fill="#0000d7"/>
<rect x="697.5" y="526.88" width="42.0" height="8.88" fill="#0000e7"/>
<rect x="697.5" y="518.50" width="42.0" height="8.88" fill="#0000f7"/>
<rect x="697.5" y="510.12" width="42.0" height="8.88" fill="#0008ff"/>
<rect x="697.5" y="501.75" width="42.0" height="8.88" fill="#0018ff"/>
<rect x="697.5" y="493.38" width="42.0" height="8.88" fill="#0028ff"/>
<rect x="697.5" y="485.00" width="42.0" height="8.88" fill="#0038ff"/>
<rect x="697.5" y="476.62" width="42.0" height="8.88" fill="#0048ff"/>
<rect x="697.5" y="468.25" width="42.0" height="8.88" fill="#0058ff"/>
<rect x="697.5" y="459.88" width="42.0" height="8.88" fill="#0068ff"/>
<rect x="697.5" y="451.50" width="42.0" height="8.88" fill="#0078ff"/>
<rect x="697.5" y="443.12" width="42.0" height="8.88" fill="#0087ff"/>
<rect x="697.5" y="434.75" width="42.0" height="8.88" fill="#0097ff"/>
<rect x="697.5" y="426.38" width="42.0" height="8.88" fill="#00a7ff"/>
<rect x="697.5" y="418.00" width="42.0" height="8.88" fill="#00b7ff"/>
<rect x="697.5" y="409.62" width="42.0" height="8.88" fill="#00c7ff"/>
<rect x="697.5" y="401.25" width="42.0" height="8.88" fill="#00d7ff"/>
<rect x="697.5" y="392.88" width="42.0" height="8.88" fill="#00e7ff"/>
<rect x="697.5" y="384.50" width="42.0" height="8.88" fill="#00f7ff"/>
<rect x="697.5" y="376.12" width="42.0" height="8.88" fill="#08fff7"/>
<rect x="697.5" y="367.75" width="42.0" height="8.88" fill="#18ffe7"/>
<rect x="697.5" y="359.38" width="42.0" height="8.88" fill="#28ffd7"/>
<rect x="697.5" y="351.00" width="42.0" height="8.88" fill="#38ffc7"/>
<rect x="697.5" y="342.62" width="42.0" height="8.88" fill="#48ffb7"/>
<rect x="697.5" y="334.25" width="42.0" height="8.88" fill="#58ffa7"/>
<rect x="697.5" y="325.88" width="42.0" height="8.88" fill="#68ff97"/>
<rect x="697.5" y="317.50" width="42.0" height="8.88" fill="#78ff87"/>
<rect x="697.5" y="309.12" width="42.0" height="8.88" fill="#87ff78"/>
<rect x="697.5" y="300.75" width="42.0" height="8.88" fill="#97ff68"/>
<rect x="697.5" y="292.38" width="42.0" height="8.88" fill="#a7ff58"/>
<rect x="697.5" y="284.00" width="42.0" height="8.88" fill="#b7ff48"/>
<rect x="697.5" y="275.62" width="42.0" height="8.88" fill="#c7ff38"/>
<rect x="697.5" y="267.25" width="42.0" height="8.88" fill="#d7ff28"/>
<rect x="697.5" y="258.88" width="42.0" height="8.88" fill="#e7ff18"/>
<rect x="697.5" y="250.50" width="42.0" height="8.88" fill="#f7ff08"/>
<rect x="697.5" y="242.12" width="42.0" height="8.88" fill="#fff700"/>
<rect x="697.5" y="233.75" width="42.0" height="8.88" fill="#ffe700"/>
<rect x="697.5" y="225.38" width="42.0" height="8.88" fill="#ffd700"/>
<rect x="697.5" y="217.00" width="42.0" height="8.88" fill="#ffc700"/>
<rect x="697.5" y="208.62" width="42.0" height="8.88" fill="#ffb700"/>
<rect x="697.5" y="200.25" width="42.0" height="8.88" fill="#ffa700"/>
<rect x="697.5" y="191.88" width="42.0" height="8.88" fill="#ff9700"/>
<rect x="697.5" y="183.50" width="42.0" height="8.88" fill="#ff8700"/>
<rect x="697.5" y="175.12" width="42.0" height="8.88" fill="#ff7800"/>
<rect x="697.5" y="166.75" width="42.0" height="8.88" fill="#ff6800"/>
<rect x="697.5" y="158.38" width="42.0" height="8.88" fill="#ff5800"/>
<rect x="697.5" y="150.00" width="42.0" height="8.88" fill="#ff4800"/>
<rect x="697.5" y="141.62" width="42.0" height="8.88" fill="#ff3800"/>
<rect x="697.5" y="133.25" width="42.0" height="8.88" fill="#ff2800"/>
<rect x="697.5" y="124.88" width="42.0" height="8.88" fill="#ff1800"/>
<rect x="697.5" y="116.50" width="42.0" height="8.88" fill="#ff0800"/>
<rect x="697.5" y="108.12" width="42.0" height="8.88" fill="#f70000"/>
<rect x="697.5" y="99.75" width="42.0" height="8.88" fill="#e70000"/>
<rect x="697.5" y="91.38" width="42.0" height="8.88" fill="#d70000"/>
<rect x="697.5" y="83.00" width="42.0" height="8.88" fill="#c70000"/>
<rect x="697.5" y="74.62" width="42.0" height="8.88" fill="#b70000"/>
<rect x="697.5" y="66.25" width="42.0" height="8.88" fill="#a70000"/>
<rect x="697.5" y="57.88" width="42.0" height="8.88" fill="#970000"/>
<rect x="697.5" y="49.50" width="42.0" height="8.88" fill="#870000"/>
<rect x="697.5" y="49.5" width="42.0" height="536.0" fill="none" stroke="#262626" stroke-width="1"/>
<text x="747.2" y="592.8" font-size="18.75">0</text>
<text x="747.2" y="539.2" font-size="18.75">10</text>
<text x="747.2" y="485.6" font-size="18.75">20</text>
<text x="747.2" y="432.0" font-size="18.75">30</text>
<text x="747.2" y="378.4" font-size="18.75">40</text>
<text x="747.2" y="324.8" font-size="18.75">50</text>
<text x="747.2" y="271.2" font-size="18.75">60</text>
<text x="747.2" y="217.6" font-size="18.75">70</text>
<text x="747.2" y="164.0" font-size="18.75">80</text>
<text x="747.2" y="110.4" font-size="18.75">90</text>
<text x="747.2" y="56.8" font-size="18.75">100</text>
<path d="M739.5 531.9h-5.5M739.5 478.3h-5.5M739.5 424.7h-5.5M739.5 371.1h-5.5M739.5 317.5h-5.5M739.5 263.9h-5.5M739.5 210.3h-5.5M739.5 156.7h-5.5M739.5 103.1h-5.5" stroke="#262626" stroke-width="1" fill="none"/>
<text transform="translate(805,316.5) rotate(-90)" font-size="19.1" text-anchor="middle">Total Electron Content (TECU)</text>
</svg></body></html>
